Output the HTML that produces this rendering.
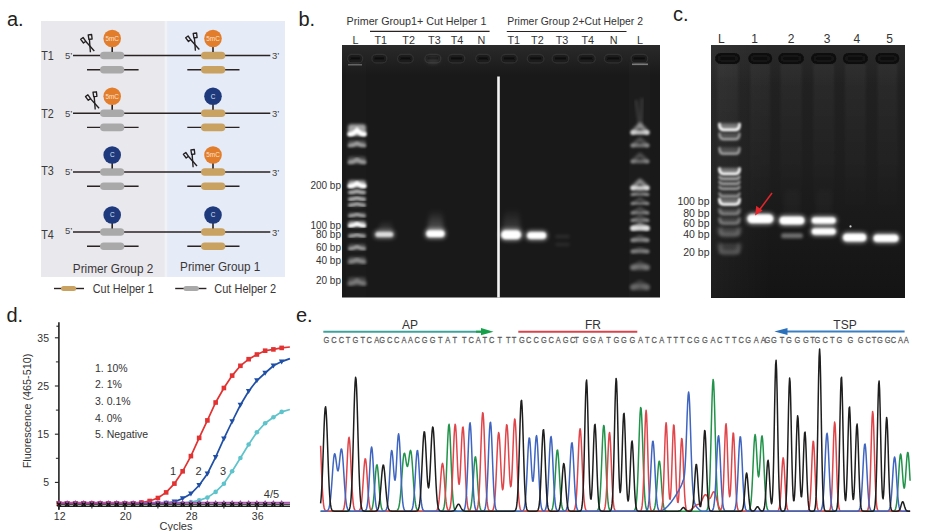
<!DOCTYPE html><html><head><meta charset="utf-8"><style>html,body{margin:0;padding:0;background:#fff;}svg{display:block}</style></head><body><svg width="933" height="531" viewBox="0 0 933 531" font-family="'Liberation Sans', sans-serif">
<defs><filter id="b05" x="-20%" y="-50%" width="140%" height="200%"><feGaussianBlur stdDeviation="0.5"/></filter><filter id="b1" x="-30%" y="-100%" width="160%" height="300%"><feGaussianBlur stdDeviation="0.9"/></filter><filter id="b15" x="-30%" y="-100%" width="160%" height="300%"><feGaussianBlur stdDeviation="1.6"/></filter><filter id="b2" x="-50%" y="-200%" width="200%" height="500%"><feGaussianBlur stdDeviation="2.2"/></filter><linearGradient id="lg" x1="0" y1="0" x2="0" y2="1"><stop offset="0" stop-color="#fff" stop-opacity="0.35"/><stop offset="0.55" stop-color="#fff" stop-opacity="0.55"/><stop offset="0.85" stop-color="#fff" stop-opacity="1"/><stop offset="1" stop-color="#fff" stop-opacity="0.8"/></linearGradient><linearGradient id="gleft" x1="0" y1="0" x2="1" y2="0"><stop offset="0" stop-color="#fff" stop-opacity="0.04"/><stop offset="1" stop-color="#fff" stop-opacity="0"/></linearGradient><linearGradient id="gcv" x1="0" y1="0" x2="0" y2="1"><stop offset="0" stop-color="#222"/><stop offset="0.45" stop-color="#1e1e1e"/><stop offset="1" stop-color="#141414"/></linearGradient><linearGradient id="glane" x1="0" y1="0" x2="0" y2="1"><stop offset="0" stop-color="#fff" stop-opacity="0.045"/><stop offset="1" stop-color="#fff" stop-opacity="0"/></linearGradient><linearGradient id="gsm" x1="0" y1="0" x2="0" y2="1"><stop offset="0" stop-color="#fff" stop-opacity="0"/><stop offset="1" stop-color="#fff" stop-opacity="0.28"/></linearGradient><linearGradient id="gtop" x1="0" y1="0" x2="0" y2="1"><stop offset="0" stop-color="#2a2a2a"/><stop offset="1" stop-color="#2a2a2a" stop-opacity="0"/></linearGradient></defs>
<rect width="933" height="531" fill="#fff"/>
<rect x="41" y="21" width="125.5" height="256" fill="#e9e8ed"/>
<rect x="166.5" y="21" width="118.5" height="256" fill="#e5ebf7"/>
<rect x="164.6" y="21" width="2.6" height="256" fill="#f1f2f6" filter="url(#b05)"/>
<text x="7" y="26" font-size="20" fill="#231f20" text-anchor="start" >a.</text>
<text x="41.2" y="60.4" font-size="12.2" fill="#3a3a3a" text-anchor="start"  textLength="12.6" lengthAdjust="spacingAndGlyphs">T1</text>
<text x="65" y="59.0" font-size="9.5" fill="#444" text-anchor="start" >5&#8217;</text>
<text x="272" y="59.1" font-size="9.5" fill="#444" text-anchor="start" >3&#8217;</text>
<line x1="73" y1="55.5" x2="270.3" y2="55.5" stroke="#2b2222" stroke-width="1.4"/>
<line x1="87" y1="69.7" x2="138.6" y2="69.7" stroke="#2b2222" stroke-width="1.4"/>
<line x1="187.3" y1="69.7" x2="239.5" y2="69.7" stroke="#2b2222" stroke-width="1.4"/>
<rect x="100" y="51.7" width="24.3" height="7.6" rx="3.8" fill="#a9a9a9"/>
<rect x="100" y="65.9" width="24.3" height="7.6" rx="3.8" fill="#a9a9a9"/>
<rect x="201" y="51.7" width="24.3" height="7.6" rx="3.8" fill="#c9a262"/>
<rect x="201" y="65.9" width="24.3" height="7.6" rx="3.8" fill="#c9a262"/>
<line x1="112.2" y1="46.5" x2="112.2" y2="52.0" stroke="#2b2222" stroke-width="1.6"/>
<circle cx="112.2" cy="38.5" r="8.8" fill="#e27d2c"/>
<text x="112.2" y="40.8" font-size="6.4" fill="#fbe3cf" text-anchor="middle">5mC</text>
<line x1="213.0" y1="46.5" x2="213.0" y2="52.0" stroke="#2b2222" stroke-width="1.6"/>
<circle cx="213.0" cy="38.5" r="8.8" fill="#e27d2c"/>
<text x="213.0" y="40.8" font-size="6.4" fill="#fbe3cf" text-anchor="middle">5mC</text>
<text x="41.2" y="117.60000000000001" font-size="12.2" fill="#3a3a3a" text-anchor="start"  textLength="12.6" lengthAdjust="spacingAndGlyphs">T2</text>
<text x="65" y="117.0" font-size="9.5" fill="#444" text-anchor="start" >5&#8217;</text>
<text x="272" y="116.8" font-size="9.5" fill="#444" text-anchor="start" >3&#8217;</text>
<line x1="73" y1="113.2" x2="270.3" y2="113.2" stroke="#2b2222" stroke-width="1.4"/>
<line x1="87" y1="127.4" x2="138.6" y2="127.4" stroke="#2b2222" stroke-width="1.4"/>
<line x1="187.3" y1="127.4" x2="239.5" y2="127.4" stroke="#2b2222" stroke-width="1.4"/>
<rect x="100" y="109.4" width="24.3" height="7.6" rx="3.8" fill="#a9a9a9"/>
<rect x="100" y="123.60000000000001" width="24.3" height="7.6" rx="3.8" fill="#a9a9a9"/>
<rect x="201" y="109.4" width="24.3" height="7.6" rx="3.8" fill="#c9a262"/>
<rect x="201" y="123.60000000000001" width="24.3" height="7.6" rx="3.8" fill="#c9a262"/>
<line x1="112.2" y1="104.2" x2="112.2" y2="109.7" stroke="#2b2222" stroke-width="1.6"/>
<circle cx="112.2" cy="96.2" r="8.8" fill="#e27d2c"/>
<text x="112.2" y="98.5" font-size="6.4" fill="#fbe3cf" text-anchor="middle">5mC</text>
<line x1="213.0" y1="104.2" x2="213.0" y2="109.7" stroke="#2b2222" stroke-width="1.6"/>
<circle cx="213.0" cy="96.2" r="8.8" fill="#1f3a7c"/>
<text x="213.0" y="98.5" font-size="6.4" fill="#dfe4f2" text-anchor="middle">C</text>
<text x="41.2" y="174.8" font-size="12.2" fill="#3a3a3a" text-anchor="start"  textLength="12.6" lengthAdjust="spacingAndGlyphs">T3</text>
<text x="65" y="175.0" font-size="9.5" fill="#444" text-anchor="start" >5&#8217;</text>
<text x="272" y="175.6" font-size="9.5" fill="#444" text-anchor="start" >3&#8217;</text>
<line x1="73" y1="172.0" x2="270.3" y2="172.0" stroke="#2b2222" stroke-width="1.4"/>
<line x1="87" y1="186.2" x2="138.6" y2="186.2" stroke="#2b2222" stroke-width="1.4"/>
<line x1="187.3" y1="186.2" x2="239.5" y2="186.2" stroke="#2b2222" stroke-width="1.4"/>
<rect x="100" y="168.2" width="24.3" height="7.6" rx="3.8" fill="#a9a9a9"/>
<rect x="100" y="182.39999999999998" width="24.3" height="7.6" rx="3.8" fill="#a9a9a9"/>
<rect x="201" y="168.2" width="24.3" height="7.6" rx="3.8" fill="#c9a262"/>
<rect x="201" y="182.39999999999998" width="24.3" height="7.6" rx="3.8" fill="#c9a262"/>
<line x1="112.2" y1="163.0" x2="112.2" y2="168.5" stroke="#2b2222" stroke-width="1.6"/>
<circle cx="112.2" cy="155.0" r="8.8" fill="#1f3a7c"/>
<text x="112.2" y="157.3" font-size="6.4" fill="#dfe4f2" text-anchor="middle">C</text>
<line x1="213.0" y1="163.0" x2="213.0" y2="168.5" stroke="#2b2222" stroke-width="1.6"/>
<circle cx="213.0" cy="155.0" r="8.8" fill="#e27d2c"/>
<text x="213.0" y="157.3" font-size="6.4" fill="#fbe3cf" text-anchor="middle">5mC</text>
<text x="41.2" y="239.0" font-size="12.2" fill="#3a3a3a" text-anchor="start"  textLength="12.6" lengthAdjust="spacingAndGlyphs">T4</text>
<text x="65" y="234.0" font-size="9.5" fill="#444" text-anchor="start" >5&#8217;</text>
<text x="272" y="235.6" font-size="9.5" fill="#444" text-anchor="start" >3&#8217;</text>
<line x1="73" y1="232.0" x2="270.3" y2="232.0" stroke="#2b2222" stroke-width="1.4"/>
<line x1="87" y1="246.2" x2="138.6" y2="246.2" stroke="#2b2222" stroke-width="1.4"/>
<line x1="187.3" y1="246.2" x2="239.5" y2="246.2" stroke="#2b2222" stroke-width="1.4"/>
<rect x="100" y="228.2" width="24.3" height="7.6" rx="3.8" fill="#a9a9a9"/>
<rect x="100" y="242.39999999999998" width="24.3" height="7.6" rx="3.8" fill="#a9a9a9"/>
<rect x="201" y="228.2" width="24.3" height="7.6" rx="3.8" fill="#c9a262"/>
<rect x="201" y="242.39999999999998" width="24.3" height="7.6" rx="3.8" fill="#c9a262"/>
<line x1="112.2" y1="223.0" x2="112.2" y2="228.5" stroke="#2b2222" stroke-width="1.6"/>
<circle cx="112.2" cy="215.0" r="8.8" fill="#1f3a7c"/>
<text x="112.2" y="217.3" font-size="6.4" fill="#dfe4f2" text-anchor="middle">C</text>
<line x1="213.0" y1="223.0" x2="213.0" y2="228.5" stroke="#2b2222" stroke-width="1.6"/>
<circle cx="213.0" cy="215.0" r="8.8" fill="#1f3a7c"/>
<text x="213.0" y="217.3" font-size="6.4" fill="#dfe4f2" text-anchor="middle">C</text>
<g transform="translate(80,34)" fill="none" stroke="#231f20" stroke-width="1.35" stroke-linejoin="round"><path d="M8.2,0.8 L11.6,0.5 L12.1,5 L8.9,5.3 Z"/><path d="M3.1,3.5 L0.7,5.3 L3.5,9 L5.8,7.3 Z"/><path d="M5.6,7.3 L14.3,17"/><path d="M9.4,5.1 L10.4,18.2"/></g>
<g transform="translate(185,32.5)" fill="none" stroke="#231f20" stroke-width="1.35" stroke-linejoin="round"><path d="M8.2,0.8 L11.6,0.5 L12.1,5 L8.9,5.3 Z"/><path d="M3.1,3.5 L0.7,5.3 L3.5,9 L5.8,7.3 Z"/><path d="M5.6,7.3 L14.3,17"/><path d="M9.4,5.1 L10.4,18.2"/></g>
<g transform="translate(84.8,91.3)" fill="none" stroke="#231f20" stroke-width="1.35" stroke-linejoin="round"><path d="M8.2,0.8 L11.6,0.5 L12.1,5 L8.9,5.3 Z"/><path d="M3.1,3.5 L0.7,5.3 L3.5,9 L5.8,7.3 Z"/><path d="M5.6,7.3 L14.3,17"/><path d="M9.4,5.1 L10.4,18.2"/></g>
<g transform="translate(182.7,149)" fill="none" stroke="#231f20" stroke-width="1.35" stroke-linejoin="round"><path d="M8.2,0.8 L11.6,0.5 L12.1,5 L8.9,5.3 Z"/><path d="M3.1,3.5 L0.7,5.3 L3.5,9 L5.8,7.3 Z"/><path d="M5.6,7.3 L14.3,17"/><path d="M9.4,5.1 L10.4,18.2"/></g>
<text x="72.8" y="272.9" font-size="11.9" fill="#3a3636" text-anchor="start"  textLength="80.5" lengthAdjust="spacingAndGlyphs">Primer Group 2</text>
<text x="180.1" y="270.9" font-size="11.9" fill="#3a3636" text-anchor="start"  textLength="80.2" lengthAdjust="spacingAndGlyphs">Primer Group 1</text>
<line x1="54" y1="288.5" x2="84" y2="288.5" stroke="#2b2222" stroke-width="1.4"/>
<rect x="61" y="286" width="15.2" height="5" rx="2.5" fill="#c9a262"/>
<text x="92.8" y="292.6" font-size="12.0" fill="#3a3636" text-anchor="start"  textLength="60.8" lengthAdjust="spacingAndGlyphs">Cut Helper 1</text>
<line x1="175.2" y1="288.5" x2="206.4" y2="288.5" stroke="#2b2222" stroke-width="1.4"/>
<rect x="183.5" y="286" width="15.4" height="5" rx="2.5" fill="#a9a9a9"/>
<text x="214.3" y="292.6" font-size="12.0" fill="#3a3636" text-anchor="start"  textLength="61.8" lengthAdjust="spacingAndGlyphs">Cut Helper 2</text>
<text x="298.5" y="25.5" font-size="20" fill="#231f20" text-anchor="start" >b.</text>
<rect x="342" y="45" width="318" height="252.5" fill="#191919"/>
<rect x="342" y="45" width="318" height="30" fill="url(#gtop)"/>
<text x="346.6" y="25.1" font-size="10.3" fill="#333" text-anchor="start"  textLength="139.8" lengthAdjust="spacingAndGlyphs">Primer Group1+ Cut Helper 1</text>
<text x="507.2" y="24.6" font-size="11.0" fill="#333" text-anchor="start"  textLength="135.8" lengthAdjust="spacingAndGlyphs">Primer Group 2+Cut Helper 2</text>
<line x1="370" y1="31.4" x2="489.6" y2="31.4" stroke="#2b2222" stroke-width="1.1"/>
<line x1="506.8" y1="31.5" x2="626.5" y2="31.5" stroke="#2b2222" stroke-width="1.1"/>
<text x="355.5" y="43.5" font-size="10.8" fill="#333" text-anchor="middle" >L</text>
<text x="380.8" y="43.5" font-size="10.8" fill="#333" text-anchor="middle" >T1</text>
<text x="408.6" y="43.5" font-size="10.8" fill="#333" text-anchor="middle" >T2</text>
<text x="434.4" y="43.5" font-size="10.8" fill="#333" text-anchor="middle" >T3</text>
<text x="457" y="43.5" font-size="10.8" fill="#333" text-anchor="middle" >T4</text>
<text x="481.5" y="43.5" font-size="10.8" fill="#333" text-anchor="middle" >N</text>
<text x="513.7" y="43.5" font-size="10.8" fill="#333" text-anchor="middle" >T1</text>
<text x="537.4" y="43.5" font-size="10.8" fill="#333" text-anchor="middle" >T2</text>
<text x="562" y="43.5" font-size="10.8" fill="#333" text-anchor="middle" >T3</text>
<text x="587.7" y="43.5" font-size="10.8" fill="#333" text-anchor="middle" >T4</text>
<text x="613.7" y="43.5" font-size="10.8" fill="#333" text-anchor="middle" >N</text>
<text x="640" y="43.5" font-size="10.8" fill="#333" text-anchor="middle" >L</text>
<rect x="347.7" y="54.5" width="14.999999999999977" height="8.300000000000002" rx="4" fill="#1a1a1a" stroke="#303030" stroke-width="1.3" filter="url(#b05)"/>
<rect x="350.5" y="57.65" width="9.399999999999977" height="2" fill="#0e0e0e" filter="url(#b05)"/>
<rect x="371.9" y="54.5" width="14.900000000000011" height="8.300000000000002" rx="4" fill="#1a1a1a" stroke="#303030" stroke-width="1.3" filter="url(#b05)"/>
<rect x="374.7" y="57.65" width="9.300000000000011" height="2" fill="#0e0e0e" filter="url(#b05)"/>
<rect x="397.59999999999997" y="54.5" width="15.700000000000022" height="8.300000000000002" rx="4" fill="#1a1a1a" stroke="#303030" stroke-width="1.3" filter="url(#b05)"/>
<rect x="400.4" y="57.65" width="10.100000000000023" height="2" fill="#0e0e0e" filter="url(#b05)"/>
<rect x="425.0" y="54.5" width="15.799999999999988" height="8.300000000000002" rx="4" fill="#1a1a1a" stroke="#303030" stroke-width="1.3" filter="url(#b05)"/>
<rect x="427.8" y="57.65" width="10.199999999999989" height="2" fill="#0e0e0e" filter="url(#b05)"/>
<rect x="448.2" y="54.5" width="16.6" height="8.300000000000002" rx="4" fill="#1a1a1a" stroke="#303030" stroke-width="1.3" filter="url(#b05)"/>
<rect x="451.0" y="57.65" width="11.0" height="2" fill="#0e0e0e" filter="url(#b05)"/>
<rect x="475.7" y="54.5" width="14.799999999999988" height="8.300000000000002" rx="4" fill="#1a1a1a" stroke="#303030" stroke-width="1.3" filter="url(#b05)"/>
<rect x="478.5" y="57.65" width="9.199999999999989" height="2" fill="#0e0e0e" filter="url(#b05)"/>
<rect x="501.2" y="54.5" width="16.1" height="8.300000000000002" rx="4" fill="#1a1a1a" stroke="#303030" stroke-width="1.3" filter="url(#b05)"/>
<rect x="504.0" y="57.65" width="10.5" height="2" fill="#0e0e0e" filter="url(#b05)"/>
<rect x="527.3000000000001" y="54.5" width="16.6" height="8.300000000000002" rx="4" fill="#1a1a1a" stroke="#303030" stroke-width="1.3" filter="url(#b05)"/>
<rect x="530.1" y="57.65" width="11.0" height="2" fill="#0e0e0e" filter="url(#b05)"/>
<rect x="552.2" y="54.5" width="16.6" height="8.300000000000002" rx="4" fill="#1a1a1a" stroke="#303030" stroke-width="1.3" filter="url(#b05)"/>
<rect x="555.0" y="57.65" width="11.0" height="2" fill="#0e0e0e" filter="url(#b05)"/>
<rect x="577.9000000000001" y="54.5" width="17.399999999999956" height="8.300000000000002" rx="4" fill="#1a1a1a" stroke="#303030" stroke-width="1.3" filter="url(#b05)"/>
<rect x="580.7" y="57.65" width="11.799999999999955" height="2" fill="#0e0e0e" filter="url(#b05)"/>
<rect x="604.5" y="54.5" width="17.40000000000007" height="8.300000000000002" rx="4" fill="#1a1a1a" stroke="#303030" stroke-width="1.3" filter="url(#b05)"/>
<rect x="607.3" y="57.65" width="11.800000000000068" height="2" fill="#0e0e0e" filter="url(#b05)"/>
<rect x="631.1" y="54.5" width="16.6" height="8.300000000000002" rx="4" fill="#1a1a1a" stroke="#303030" stroke-width="1.3" filter="url(#b05)"/>
<rect x="633.9" y="57.65" width="11.0" height="2" fill="#0e0e0e" filter="url(#b05)"/>
<rect x="632" y="63.5" width="16" height="1.6" fill="#fff" opacity="0.4" filter="url(#b05)"/>
<rect x="348" y="64" width="14" height="1.5" fill="#fff" opacity="0.3" filter="url(#b05)"/>
<ellipse cx="433" cy="60" rx="7" ry="4" fill="#fff" opacity="0.1" filter="url(#b2)"/>
<rect x="346" y="62" width="20" height="235" fill="#fff" opacity="0.012"/>
<rect x="348" y="124.2" width="18" height="11.899999999999991" rx="3" fill="#fff" opacity="0.6" filter="url(#b15)"/>
<path d="M349.5,134.35 Q353,134.35 357,130.185 Q361,134.35 364.5,134.35" fill="none" stroke="#fff" stroke-width="4.5" stroke-linecap="round" opacity="1.0" filter="url(#b1)"/>
<rect x="348" y="140.3" width="18" height="6.799999999999983" rx="3" fill="#fff" opacity="0.252" filter="url(#b15)"/>
<path d="M349.5,145.73 Q353,145.73 357,143.35 Q361,145.73 364.5,145.73" fill="none" stroke="#fff" stroke-width="3.739999999999991" stroke-linecap="round" opacity="0.42" filter="url(#b1)"/>
<rect x="348" y="156.4" width="18" height="7.599999999999994" rx="3" fill="#fff" opacity="0.24" filter="url(#b15)"/>
<path d="M349.5,162.41 Q353,162.41 357,159.75 Q361,162.41 364.5,162.41" fill="none" stroke="#fff" stroke-width="4.179999999999997" stroke-linecap="round" opacity="0.4" filter="url(#b1)"/>
<rect x="348" y="180.2" width="18" height="7.600000000000023" rx="3" fill="#fff" opacity="0.6" filter="url(#b15)"/>
<path d="M349.5,186.21 Q353,186.21 357,183.55 Q361,186.21 364.5,186.21" fill="none" stroke="#fff" stroke-width="4.180000000000013" stroke-linecap="round" opacity="1.0" filter="url(#b1)"/>
<rect x="348" y="189.5" width="18" height="4.199999999999989" rx="3" fill="#fff" opacity="0.3" filter="url(#b15)"/>
<path d="M349.5,192.7 Q353,192.7 357,191.23 Q361,192.7 364.5,192.7" fill="none" stroke="#fff" stroke-width="3" stroke-linecap="round" opacity="0.5" filter="url(#b1)"/>
<rect x="348" y="196.3" width="18" height="4.199999999999989" rx="3" fill="#fff" opacity="0.3" filter="url(#b15)"/>
<path d="M349.5,199.5 Q353,199.5 357,198.03 Q361,199.5 364.5,199.5" fill="none" stroke="#fff" stroke-width="3" stroke-linecap="round" opacity="0.5" filter="url(#b1)"/>
<rect x="348" y="202.2" width="18" height="4.200000000000017" rx="3" fill="#fff" opacity="0.288" filter="url(#b15)"/>
<path d="M349.5,205.4 Q353,205.4 357,203.93 Q361,205.4 364.5,205.4" fill="none" stroke="#fff" stroke-width="3" stroke-linecap="round" opacity="0.48" filter="url(#b1)"/>
<rect x="348" y="212.6" width="18" height="4.300000000000011" rx="3" fill="#fff" opacity="0.27" filter="url(#b15)"/>
<path d="M349.5,215.9 Q353,215.9 357,214.395 Q361,215.9 364.5,215.9" fill="none" stroke="#fff" stroke-width="3" stroke-linecap="round" opacity="0.45" filter="url(#b1)"/>
<rect x="348" y="221.1" width="18" height="5.900000000000006" rx="3" fill="#fff" opacity="0.6" filter="url(#b15)"/>
<path d="M349.5,225.8775 Q353,225.8775 357,223.8125 Q361,225.8775 364.5,225.8775" fill="none" stroke="#fff" stroke-width="3.245000000000003" stroke-linecap="round" opacity="1.0" filter="url(#b1)"/>
<rect x="348" y="233" width="18" height="4.199999999999989" rx="3" fill="#fff" opacity="0.27" filter="url(#b15)"/>
<path d="M349.5,236.2 Q353,236.2 357,234.73 Q361,236.2 364.5,236.2" fill="none" stroke="#fff" stroke-width="3" stroke-linecap="round" opacity="0.45" filter="url(#b1)"/>
<rect x="348" y="244" width="18" height="5.900000000000006" rx="3" fill="#fff" opacity="0.252" filter="url(#b15)"/>
<path d="M349.5,248.7775 Q353,248.7775 357,246.7125 Q361,248.7775 364.5,248.7775" fill="none" stroke="#fff" stroke-width="3.245000000000003" stroke-linecap="round" opacity="0.42" filter="url(#b1)"/>
<rect x="348" y="256.7" width="18" height="6.800000000000011" rx="3" fill="#fff" opacity="0.22799999999999998" filter="url(#b15)"/>
<path d="M349.5,262.13 Q353,262.13 357,259.75 Q361,262.13 364.5,262.13" fill="none" stroke="#fff" stroke-width="3.7400000000000064" stroke-linecap="round" opacity="0.38" filter="url(#b15)"/>
<rect x="348" y="277" width="18" height="8.5" rx="3" fill="#fff" opacity="0.18" filter="url(#b15)"/>
<path d="M349.5,283.75 Q353,283.75 357,280.775 Q361,283.75 364.5,283.75" fill="none" stroke="#fff" stroke-width="4.5" stroke-linecap="round" opacity="0.3" filter="url(#b15)"/>
<rect x="629" y="62" width="21" height="235" fill="#fff" opacity="0.015"/>
<path d="M636,100 L640,130 M642,98 L641,130" stroke="#fff" stroke-width="3" opacity="0.12" filter="url(#b15)"/>
<path d="M632.5,132.5 L640,124.73 L647.5,132.5" fill="none" stroke="#fff" stroke-width="4.5" stroke-linejoin="round" stroke-linecap="round" opacity="0.45" filter="url(#b15)"/>
<rect x="630.5" y="130.25" width="19" height="4.5" rx="2.25" fill="#fff" opacity="0.675" filter="url(#b1)"/>
<path d="M632.5,145.5 L640,139.13 L647.5,145.5" fill="none" stroke="#fff" stroke-width="4" stroke-linejoin="round" stroke-linecap="round" opacity="0.225" filter="url(#b15)"/>
<rect x="630.5" y="143.5" width="19" height="4" rx="2.0" fill="#fff" opacity="0.3375" filter="url(#b1)"/>
<path d="M632.5,161.5 L640,154.5 L647.5,161.5" fill="none" stroke="#fff" stroke-width="4" stroke-linejoin="round" stroke-linecap="round" opacity="0.21" filter="url(#b15)"/>
<rect x="630.5" y="159.5" width="19" height="4" rx="2.0" fill="#fff" opacity="0.315" filter="url(#b1)"/>
<path d="M632.5,188 L640,180.93 L647.5,188" fill="none" stroke="#fff" stroke-width="4.5" stroke-linejoin="round" stroke-linecap="round" opacity="0.475" filter="url(#b15)"/>
<rect x="630.5" y="185.75" width="19" height="4.5" rx="2.25" fill="#fff" opacity="0.7124999999999999" filter="url(#b1)"/>
<path d="M632.5,194.5 L640,190.65 L647.5,194.5" fill="none" stroke="#fff" stroke-width="3.2" stroke-linejoin="round" stroke-linecap="round" opacity="0.225" filter="url(#b15)"/>
<rect x="630.5" y="192.9" width="19" height="3.2" rx="1.6" fill="#fff" opacity="0.3375" filter="url(#b1)"/>
<path d="M632.5,203.5 L640,198.88 L647.5,203.5" fill="none" stroke="#fff" stroke-width="3.2" stroke-linejoin="round" stroke-linecap="round" opacity="0.225" filter="url(#b15)"/>
<rect x="630.5" y="201.9" width="19" height="3.2" rx="1.6" fill="#fff" opacity="0.3375" filter="url(#b1)"/>
<path d="M632.5,212.9 L640,208.28 L647.5,212.9" fill="none" stroke="#fff" stroke-width="3.2" stroke-linejoin="round" stroke-linecap="round" opacity="0.225" filter="url(#b15)"/>
<rect x="630.5" y="211.3" width="19" height="3.2" rx="1.6" fill="#fff" opacity="0.3375" filter="url(#b1)"/>
<path d="M632.5,220.4 L640,216.48000000000002 L647.5,220.4" fill="none" stroke="#fff" stroke-width="3.2" stroke-linejoin="round" stroke-linecap="round" opacity="0.225" filter="url(#b15)"/>
<rect x="630.5" y="218.8" width="19" height="3.2" rx="1.6" fill="#fff" opacity="0.3375" filter="url(#b1)"/>
<path d="M632.5,228.2 L640,224.7 L647.5,228.2" fill="none" stroke="#fff" stroke-width="5" stroke-linejoin="round" stroke-linecap="round" opacity="0.5" filter="url(#b15)"/>
<rect x="630.5" y="225.7" width="19" height="5" rx="2.5" fill="#fff" opacity="0.75" filter="url(#b1)"/>
<path d="M632.5,240.2 L640,236.91 L647.5,240.2" fill="none" stroke="#fff" stroke-width="4" stroke-linejoin="round" stroke-linecap="round" opacity="0.225" filter="url(#b15)"/>
<rect x="630.5" y="238.2" width="19" height="4" rx="2.0" fill="#fff" opacity="0.3375" filter="url(#b1)"/>
<path d="M632.5,251.5 L640,248.84 L647.5,251.5" fill="none" stroke="#fff" stroke-width="4" stroke-linejoin="round" stroke-linecap="round" opacity="0.2" filter="url(#b15)"/>
<rect x="630.5" y="249.5" width="19" height="4" rx="2.0" fill="#fff" opacity="0.30000000000000004" filter="url(#b1)"/>
<path d="M632.5,267.5 L640,263.58 L647.5,267.5" fill="none" stroke="#fff" stroke-width="5.5" stroke-linejoin="round" stroke-linecap="round" opacity="0.18" filter="url(#b15)"/>
<rect x="630.5" y="264.75" width="19" height="5.5" rx="2.75" fill="#fff" opacity="0.27" filter="url(#b15)"/>
<path d="M632.5,287.3 L640,282.68 L647.5,287.3" fill="none" stroke="#fff" stroke-width="6" stroke-linejoin="round" stroke-linecap="round" opacity="0.15" filter="url(#b15)"/>
<rect x="630.5" y="284.3" width="19" height="6" rx="3.0" fill="#fff" opacity="0.22499999999999998" filter="url(#b15)"/>
<path d="M427,232 L444,232 L442,210 L430,210 Z" fill="url(#gsm)" filter="url(#b2)"/>
<rect x="424.9" y="229.05" width="21.0" height="9.5" rx="4.75" fill="#ffffff" opacity="0.6" filter="url(#b2)"/>
<rect x="426.4" y="230.55" width="18.0" height="6.5" rx="3.25" fill="#ffffff" opacity="1.0" filter="url(#b1)"/>
<rect x="373.9" y="230.6" width="20.80000000000001" height="8" rx="4.0" fill="#ffffff" opacity="0.432" filter="url(#b2)"/>
<rect x="375.4" y="232.1" width="17.80000000000001" height="5" rx="2.5" fill="#ffffff" opacity="0.72" filter="url(#b1)"/>
<path d="M377,233 L393,233 L391,220 L381,222 Z" fill="url(#gsm)" opacity="0.7" filter="url(#b2)"/>
<path d="M502,232 L521,232 L519,208 L505,208 Z" fill="url(#gsm)" opacity="0.6" filter="url(#b2)"/>
<rect x="499.8" y="228.95" width="22.599999999999966" height="11.5" rx="5.75" fill="#ffffff" opacity="0.6" filter="url(#b2)"/>
<rect x="501.3" y="230.45" width="19.599999999999966" height="8.5" rx="4.25" fill="#ffffff" opacity="1.0" filter="url(#b1)"/>
<rect x="525.8" y="230.85" width="21.700000000000045" height="9.5" rx="4.75" fill="#ffffff" opacity="0.6" filter="url(#b2)"/>
<rect x="527.3" y="232.35" width="18.700000000000045" height="6.5" rx="3.25" fill="#ffffff" opacity="1.0" filter="url(#b1)"/>
<rect x="555" y="234.75" width="15" height="3.5" rx="1.75" fill="#ffffff" opacity="0.08" filter="url(#b15)"/>
<rect x="555" y="242.75" width="15" height="3.5" rx="1.75" fill="#ffffff" opacity="0.07" filter="url(#b15)"/>
<rect x="497.2" y="76.5" width="2.6" height="221" fill="#f4f4f4"/>
<text x="341" y="188.9" font-size="10" fill="#333" text-anchor="end" >200 bp</text>
<text x="341" y="228.9" font-size="10" fill="#333" text-anchor="end" >100 bp</text>
<text x="341" y="238.2" font-size="10" fill="#333" text-anchor="end" >80 bp</text>
<text x="341" y="250.9" font-size="10" fill="#333" text-anchor="end" >60 bp</text>
<text x="341" y="264.1" font-size="10" fill="#333" text-anchor="end" >40 bp</text>
<text x="341" y="283.90000000000003" font-size="10" fill="#333" text-anchor="end" >20 bp</text>
<text x="673" y="21" font-size="20" fill="#231f20" text-anchor="start" >c.</text>
<rect x="711" y="45" width="194" height="253" fill="url(#gcv)"/>
<rect x="711" y="45" width="194" height="40" fill="url(#gtop)"/>
<rect x="711" y="45" width="60" height="252.5" fill="url(#gleft)"/>
<text x="721.4" y="43" font-size="12" fill="#333" text-anchor="middle" >L</text>
<text x="754.7" y="43" font-size="12" fill="#333" text-anchor="middle" >1</text>
<text x="791.2" y="43" font-size="12" fill="#333" text-anchor="middle" >2</text>
<text x="827.2" y="43" font-size="12" fill="#333" text-anchor="middle" >3</text>
<text x="856.9" y="43" font-size="12" fill="#333" text-anchor="middle" >4</text>
<text x="889.7" y="43" font-size="12" fill="#333" text-anchor="middle" >5</text>
<rect x="717.3" y="64" width="20.700000000000045" height="150" fill="url(#glane)" filter="url(#b1)"/>
<rect x="716.3" y="54.1" width="22.700000000000045" height="8.7" rx="4.3" fill="#161616" stroke="#0a0a0a" stroke-width="2.2" filter="url(#b05)"/>
<rect x="720.3" y="57.6" width="14.700000000000045" height="1.8" fill="#0a0a0a" filter="url(#b05)"/>
<rect x="750.5" y="64" width="19.600000000000023" height="150" fill="url(#glane)" filter="url(#b1)"/>
<rect x="749.5" y="54.1" width="21.600000000000023" height="8.7" rx="4.3" fill="#161616" stroke="#0a0a0a" stroke-width="2.2" filter="url(#b05)"/>
<rect x="753.5" y="57.6" width="13.600000000000023" height="1.8" fill="#0a0a0a" filter="url(#b05)"/>
<rect x="780.5" y="64" width="21.200000000000045" height="150" fill="url(#glane)" filter="url(#b1)"/>
<rect x="779.5" y="54.1" width="23.200000000000045" height="8.7" rx="4.3" fill="#161616" stroke="#0a0a0a" stroke-width="2.2" filter="url(#b05)"/>
<rect x="783.5" y="57.6" width="15.200000000000045" height="1.8" fill="#0a0a0a" filter="url(#b05)"/>
<rect x="813.4" y="64" width="20.800000000000068" height="150" fill="url(#glane)" filter="url(#b1)"/>
<rect x="812.4" y="54.1" width="22.800000000000068" height="8.7" rx="4.3" fill="#161616" stroke="#0a0a0a" stroke-width="2.2" filter="url(#b05)"/>
<rect x="816.4" y="57.6" width="14.800000000000068" height="1.8" fill="#0a0a0a" filter="url(#b05)"/>
<rect x="845" y="64" width="20.700000000000045" height="150" fill="url(#glane)" filter="url(#b1)"/>
<rect x="844" y="54.1" width="22.700000000000045" height="8.7" rx="4.3" fill="#161616" stroke="#0a0a0a" stroke-width="2.2" filter="url(#b05)"/>
<rect x="848" y="57.6" width="14.700000000000045" height="1.8" fill="#0a0a0a" filter="url(#b05)"/>
<rect x="877.6" y="64" width="19.600000000000023" height="150" fill="url(#glane)" filter="url(#b1)"/>
<rect x="876.6" y="54.1" width="21.600000000000023" height="8.7" rx="4.3" fill="#161616" stroke="#0a0a0a" stroke-width="2.2" filter="url(#b05)"/>
<rect x="880.6" y="57.6" width="13.600000000000023" height="1.8" fill="#0a0a0a" filter="url(#b05)"/>
<rect x="784" y="190" width="16" height="24" fill="#fff" opacity="0.02" filter="url(#b2)"/>
<rect x="816" y="190" width="16" height="24" fill="#fff" opacity="0.02" filter="url(#b2)"/>
<rect x="719.0" y="123.5" width="21.0" height="7.5" rx="2" fill="#fff" opacity="0.38" filter="url(#b15)"/>
<path d="M719.5,124 Q719.5,129.7 723.5,129.7 L735.5,129.7 Q739.5,129.7 739.5,124" fill="none" stroke="#fff" stroke-width="2.6" stroke-linecap="round" opacity="1.0" filter="url(#b1)"/>
<rect x="719.0" y="133.1" width="21.0" height="7.099999999999994" rx="2" fill="#fff" opacity="0.19" filter="url(#b15)"/>
<path d="M719.5,133.6 Q719.5,139.1 723.5,139.1 L735.5,139.1 Q739.5,139.1 739.5,133.6" fill="none" stroke="#fff" stroke-width="2.2" stroke-linecap="round" opacity="0.5" filter="url(#b1)"/>
<rect x="719.0" y="147.4" width="21.0" height="7.400000000000006" rx="2" fill="#fff" opacity="0.19" filter="url(#b15)"/>
<path d="M719.5,147.9 Q719.5,153.70000000000002 723.5,153.70000000000002 L735.5,153.70000000000002 Q739.5,153.70000000000002 739.5,147.9" fill="none" stroke="#fff" stroke-width="2.2" stroke-linecap="round" opacity="0.5" filter="url(#b1)"/>
<rect x="719.0" y="168.0" width="21.0" height="7.0" rx="2" fill="#fff" opacity="0.38" filter="url(#b15)"/>
<path d="M719.5,168.5 Q719.5,173.7 723.5,173.7 L735.5,173.7 Q739.5,173.7 739.5,168.5" fill="none" stroke="#fff" stroke-width="2.6" stroke-linecap="round" opacity="1.0" filter="url(#b1)"/>
<rect x="719.0" y="176.0" width="21.0" height="4.0" rx="2" fill="#fff" opacity="0.20900000000000002" filter="url(#b15)"/>
<path d="M719.5,176.5 Q719.5,178.9 723.5,178.9 L735.5,178.9 Q739.5,178.9 739.5,176.5" fill="none" stroke="#fff" stroke-width="2.2" stroke-linecap="round" opacity="0.55" filter="url(#b1)"/>
<rect x="719.0" y="181.0" width="21.0" height="4.0" rx="2" fill="#fff" opacity="0.19" filter="url(#b15)"/>
<path d="M719.5,181.5 Q719.5,183.9 723.5,183.9 L735.5,183.9 Q739.5,183.9 739.5,181.5" fill="none" stroke="#fff" stroke-width="2.2" stroke-linecap="round" opacity="0.5" filter="url(#b1)"/>
<rect x="719.0" y="186.0" width="21.0" height="4.0" rx="2" fill="#fff" opacity="0.1824" filter="url(#b15)"/>
<path d="M719.5,186.5 Q719.5,188.9 723.5,188.9 L735.5,188.9 Q739.5,188.9 739.5,186.5" fill="none" stroke="#fff" stroke-width="2.2" stroke-linecap="round" opacity="0.48" filter="url(#b1)"/>
<rect x="719.0" y="192.5" width="21.0" height="5.0" rx="2" fill="#fff" opacity="0.171" filter="url(#b15)"/>
<path d="M719.5,193 Q719.5,196.4 723.5,196.4 L735.5,196.4 Q739.5,196.4 739.5,193" fill="none" stroke="#fff" stroke-width="2.2" stroke-linecap="round" opacity="0.45" filter="url(#b1)"/>
<rect x="719.0" y="198.5" width="21.0" height="7.0" rx="2" fill="#fff" opacity="0.38" filter="url(#b15)"/>
<path d="M719.5,199 Q719.5,204.2 723.5,204.2 L735.5,204.2 Q739.5,204.2 739.5,199" fill="none" stroke="#fff" stroke-width="2.6" stroke-linecap="round" opacity="1.0" filter="url(#b1)"/>
<rect x="719.0" y="208.5" width="21.0" height="6.5" rx="2" fill="#fff" opacity="0.171" filter="url(#b15)"/>
<path d="M719.5,209 Q719.5,213.9 723.5,213.9 L735.5,213.9 Q739.5,213.9 739.5,209" fill="none" stroke="#fff" stroke-width="2.2" stroke-linecap="round" opacity="0.45" filter="url(#b15)"/>
<rect x="719.0" y="217.5" width="21.0" height="7.0" rx="2" fill="#fff" opacity="0.1596" filter="url(#b15)"/>
<path d="M719.5,218 Q719.5,223.4 723.5,223.4 L735.5,223.4 Q739.5,223.4 739.5,218" fill="none" stroke="#fff" stroke-width="2.2" stroke-linecap="round" opacity="0.42" filter="url(#b15)"/>
<rect x="719.0" y="227.5" width="21.0" height="8.5" rx="2" fill="#fff" opacity="0.15200000000000002" filter="url(#b15)"/>
<path d="M719.5,228 Q719.5,234.9 723.5,234.9 L735.5,234.9 Q739.5,234.9 739.5,228" fill="none" stroke="#fff" stroke-width="2.2" stroke-linecap="round" opacity="0.4" filter="url(#b2)"/>
<rect x="719.0" y="243.5" width="21.0" height="10.5" rx="2" fill="#fff" opacity="0.1254" filter="url(#b15)"/>
<path d="M719.5,244 Q719.5,252.9 723.5,252.9 L735.5,252.9 Q739.5,252.9 739.5,244" fill="none" stroke="#fff" stroke-width="2.2" stroke-linecap="round" opacity="0.33" filter="url(#b2)"/>
<rect x="746.0" y="213.05" width="28.700000000000045" height="11.5" rx="5.75" fill="#ffffff" opacity="0.6" filter="url(#b2)"/>
<rect x="747.5" y="214.55" width="25.700000000000045" height="8.5" rx="4.25" fill="#ffffff" opacity="1.0" filter="url(#b1)"/>
<rect x="778.2" y="215.15" width="27.5" height="10.5" rx="5.25" fill="#ffffff" opacity="0.6" filter="url(#b2)"/>
<rect x="779.7" y="216.65" width="24.5" height="7.5" rx="3.75" fill="#ffffff" opacity="1.0" filter="url(#b1)"/>
<rect x="781" y="233.2" width="22" height="5" rx="2.5" fill="#ffffff" opacity="0.38" filter="url(#b15)"/>
<rect x="810.4" y="215.9" width="26.700000000000045" height="9" rx="4.5" fill="#ffffff" opacity="0.6" filter="url(#b2)"/>
<rect x="811.9" y="217.4" width="23.700000000000045" height="6" rx="3.0" fill="#ffffff" opacity="1.0" filter="url(#b1)"/>
<rect x="810.4" y="226.9" width="26.700000000000045" height="9" rx="4.5" fill="#ffffff" opacity="0.6" filter="url(#b2)"/>
<rect x="811.9" y="228.4" width="23.700000000000045" height="6" rx="3.0" fill="#ffffff" opacity="1.0" filter="url(#b1)"/>
<rect x="841.7" y="232.15" width="25.899999999999977" height="10.5" rx="5.25" fill="#ffffff" opacity="0.6" filter="url(#b2)"/>
<rect x="843.2" y="233.65" width="22.899999999999977" height="7.5" rx="3.75" fill="#ffffff" opacity="1.0" filter="url(#b1)"/>
<rect x="872.2" y="233.2" width="27.59999999999991" height="10" rx="5.0" fill="#ffffff" opacity="0.6" filter="url(#b2)"/>
<rect x="873.7" y="234.7" width="24.59999999999991" height="7" rx="3.5" fill="#ffffff" opacity="1.0" filter="url(#b1)"/>
<circle cx="850.5" cy="226.4" r="1.1" fill="#fff" opacity="0.8"/>
<line x1="772" y1="193" x2="759" y2="210.5" stroke="#e3262b" stroke-width="1.5"/>
<path d="M755.1,215.5 L756.2,205.8 L762.6,210.6 Z" fill="#e3262b"/>
<text x="709.5" y="205.4" font-size="10.5" fill="#333" text-anchor="end" >100 bp</text>
<text x="709.5" y="217.1" font-size="10.5" fill="#333" text-anchor="end" >80 bp</text>
<text x="709.5" y="227.4" font-size="10.5" fill="#333" text-anchor="end" >60 bp</text>
<text x="709.5" y="238.2" font-size="10.5" fill="#333" text-anchor="end" >40 bp</text>
<text x="709.5" y="256.0" font-size="10.5" fill="#333" text-anchor="end" >20 bp</text>
<text x="6.5" y="322" font-size="20" fill="#231f20" text-anchor="start" >d.</text>
<line x1="58.9" y1="322.2" x2="58.9" y2="509.5" stroke="#222" stroke-width="1.6"/>
<line x1="56.4" y1="326.2" x2="58.9" y2="326.2" stroke="#222" stroke-width="1.1"/>
<line x1="58.9" y1="506.5" x2="290" y2="506.5" stroke="#222" stroke-width="1.1"/>
<line x1="54.9" y1="337.79999999999995" x2="58.9" y2="337.79999999999995" stroke="#222" stroke-width="1.1"/>
<text x="49" y="341.59999999999997" font-size="10.5" fill="#333" text-anchor="end" >35</text>
<line x1="54.9" y1="386.0" x2="58.9" y2="386.0" stroke="#222" stroke-width="1.1"/>
<text x="49" y="389.8" font-size="10.5" fill="#333" text-anchor="end" >25</text>
<line x1="54.9" y1="434.2" x2="58.9" y2="434.2" stroke="#222" stroke-width="1.1"/>
<text x="49" y="438.0" font-size="10.5" fill="#333" text-anchor="end" >15</text>
<line x1="54.9" y1="482.4" x2="58.9" y2="482.4" stroke="#222" stroke-width="1.1"/>
<text x="49" y="486.2" font-size="10.5" fill="#333" text-anchor="end" >5</text>
<line x1="55.9" y1="361.9" x2="58.9" y2="361.9" stroke="#222" stroke-width="1"/>
<line x1="55.9" y1="410.1" x2="58.9" y2="410.1" stroke="#222" stroke-width="1"/>
<line x1="55.9" y1="458.3" x2="58.9" y2="458.3" stroke="#222" stroke-width="1"/>
<line x1="58.9" y1="506.5" x2="58.9" y2="510.0" stroke="#222" stroke-width="1.1"/>
<text x="59.699999999999996" y="519.8" font-size="10.5" fill="#333" text-anchor="middle" >12</text>
<line x1="124.9" y1="506.5" x2="124.9" y2="510.0" stroke="#222" stroke-width="1.1"/>
<text x="125.7" y="519.8" font-size="10.5" fill="#333" text-anchor="middle" >20</text>
<line x1="190.9" y1="506.5" x2="190.9" y2="510.0" stroke="#222" stroke-width="1.1"/>
<text x="191.70000000000002" y="519.8" font-size="10.5" fill="#333" text-anchor="middle" >28</text>
<line x1="256.9" y1="506.5" x2="256.9" y2="510.0" stroke="#222" stroke-width="1.1"/>
<text x="257.7" y="519.8" font-size="10.5" fill="#333" text-anchor="middle" >36</text>
<line x1="91.9" y1="506.5" x2="91.9" y2="508.5" stroke="#222" stroke-width="1"/>
<line x1="157.9" y1="506.5" x2="157.9" y2="508.5" stroke="#222" stroke-width="1"/>
<line x1="223.9" y1="506.5" x2="223.9" y2="508.5" stroke="#222" stroke-width="1"/>
<text x="176" y="530" font-size="11" fill="#333" text-anchor="middle" >Cycles</text>
<text transform="translate(31.4,411) rotate(-90)" font-size="10.8" fill="#333" text-anchor="middle">Fluorescence (465-510)</text>
<text x="95" y="371.7" font-size="10.5" fill="#333" text-anchor="start" >1. 10%</text>
<text x="95" y="388.3" font-size="10.5" fill="#333" text-anchor="start" >2. 1%</text>
<text x="95" y="404.9" font-size="10.5" fill="#333" text-anchor="start" >3. 0.1%</text>
<text x="95" y="421.5" font-size="10.5" fill="#333" text-anchor="start" >4. 0%</text>
<text x="95" y="438.1" font-size="10.5" fill="#333" text-anchor="start" >5. Negative</text>
<path d="M58.90,503.50 L67.15,503.50 L75.40,503.50 L83.65,503.50 L91.90,503.50 L100.15,503.50 L108.40,503.50 L116.65,503.50 L124.90,503.50 L133.15,503.50 L141.40,503.50 L149.65,503.50 L157.90,503.50 L166.15,503.50 L174.40,503.50 L182.65,503.20 L190.90,502.00 L199.15,500.40 L207.40,497.60 L215.65,491.90 L223.90,483.80 L232.15,471.20 L240.40,458.00 L248.65,444.50 L256.90,432.20 L265.15,423.20 L273.40,417.20 L281.65,411.90 L289.90,409.50" fill="none" stroke="#5ec3cb" stroke-width="1.7"/>
<circle cx="58.9" cy="503.5" r="2.3" fill="#5ec3cb"/>
<circle cx="67.15" cy="503.5" r="2.3" fill="#5ec3cb"/>
<circle cx="75.4" cy="503.5" r="2.3" fill="#5ec3cb"/>
<circle cx="83.65" cy="503.5" r="2.3" fill="#5ec3cb"/>
<circle cx="91.9" cy="503.5" r="2.3" fill="#5ec3cb"/>
<circle cx="100.15" cy="503.5" r="2.3" fill="#5ec3cb"/>
<circle cx="108.4" cy="503.5" r="2.3" fill="#5ec3cb"/>
<circle cx="116.65" cy="503.5" r="2.3" fill="#5ec3cb"/>
<circle cx="124.9" cy="503.5" r="2.3" fill="#5ec3cb"/>
<circle cx="133.15" cy="503.5" r="2.3" fill="#5ec3cb"/>
<circle cx="141.4" cy="503.5" r="2.3" fill="#5ec3cb"/>
<circle cx="149.65" cy="503.5" r="2.3" fill="#5ec3cb"/>
<circle cx="157.9" cy="503.5" r="2.3" fill="#5ec3cb"/>
<circle cx="166.15" cy="503.5" r="2.3" fill="#5ec3cb"/>
<circle cx="174.4" cy="503.5" r="2.3" fill="#5ec3cb"/>
<circle cx="182.65" cy="503.2" r="2.3" fill="#5ec3cb"/>
<circle cx="190.9" cy="502" r="2.3" fill="#5ec3cb"/>
<circle cx="199.15" cy="500.4" r="2.3" fill="#5ec3cb"/>
<circle cx="207.4" cy="497.6" r="2.3" fill="#5ec3cb"/>
<circle cx="215.65" cy="491.9" r="2.3" fill="#5ec3cb"/>
<circle cx="223.9" cy="483.8" r="2.3" fill="#5ec3cb"/>
<circle cx="232.15" cy="471.2" r="2.3" fill="#5ec3cb"/>
<circle cx="240.4" cy="458" r="2.3" fill="#5ec3cb"/>
<circle cx="248.65" cy="444.5" r="2.3" fill="#5ec3cb"/>
<circle cx="256.9" cy="432.2" r="2.3" fill="#5ec3cb"/>
<circle cx="265.15" cy="423.2" r="2.3" fill="#5ec3cb"/>
<circle cx="273.4" cy="417.2" r="2.3" fill="#5ec3cb"/>
<circle cx="281.65" cy="411.9" r="2.3" fill="#5ec3cb"/>
<path d="M58.90,503.50 L67.15,503.50 L75.40,503.50 L83.65,503.50 L91.90,503.50 L100.15,503.50 L108.40,503.50 L116.65,503.50 L124.90,503.50 L133.15,503.50 L141.40,503.50 L149.65,503.50 L157.90,503.50 L166.15,503.00 L174.40,501.80 L182.65,498.50 L190.90,493.80 L199.15,485.30 L207.40,473.70 L215.65,457.10 L223.90,438.60 L232.15,421.50 L240.40,405.00 L248.65,391.20 L256.90,380.50 L265.15,373.00 L273.40,365.80 L281.65,361.60 L289.90,358.60" fill="none" stroke="#1f4fa6" stroke-width="1.7"/>
<path d="M56.1,501.3 L61.699999999999996,501.3 L58.9,506.3 Z" fill="#1f4fa6"/>
<path d="M64.35000000000001,501.3 L69.95,501.3 L67.15,506.3 Z" fill="#1f4fa6"/>
<path d="M72.60000000000001,501.3 L78.2,501.3 L75.4,506.3 Z" fill="#1f4fa6"/>
<path d="M80.85000000000001,501.3 L86.45,501.3 L83.65,506.3 Z" fill="#1f4fa6"/>
<path d="M89.10000000000001,501.3 L94.7,501.3 L91.9,506.3 Z" fill="#1f4fa6"/>
<path d="M97.35000000000001,501.3 L102.95,501.3 L100.15,506.3 Z" fill="#1f4fa6"/>
<path d="M105.60000000000001,501.3 L111.2,501.3 L108.4,506.3 Z" fill="#1f4fa6"/>
<path d="M113.85000000000001,501.3 L119.45,501.3 L116.65,506.3 Z" fill="#1f4fa6"/>
<path d="M122.10000000000001,501.3 L127.7,501.3 L124.9,506.3 Z" fill="#1f4fa6"/>
<path d="M130.35,501.3 L135.95000000000002,501.3 L133.15,506.3 Z" fill="#1f4fa6"/>
<path d="M138.6,501.3 L144.20000000000002,501.3 L141.4,506.3 Z" fill="#1f4fa6"/>
<path d="M146.85,501.3 L152.45000000000002,501.3 L149.65,506.3 Z" fill="#1f4fa6"/>
<path d="M155.1,501.3 L160.70000000000002,501.3 L157.9,506.3 Z" fill="#1f4fa6"/>
<path d="M163.35,500.8 L168.95000000000002,500.8 L166.15,505.8 Z" fill="#1f4fa6"/>
<path d="M171.6,499.6 L177.20000000000002,499.6 L174.4,504.6 Z" fill="#1f4fa6"/>
<path d="M179.85,496.3 L185.45000000000002,496.3 L182.65,501.3 Z" fill="#1f4fa6"/>
<path d="M188.1,491.6 L193.70000000000002,491.6 L190.9,496.6 Z" fill="#1f4fa6"/>
<path d="M196.35,483.1 L201.95000000000002,483.1 L199.15,488.1 Z" fill="#1f4fa6"/>
<path d="M204.6,471.5 L210.20000000000002,471.5 L207.4,476.5 Z" fill="#1f4fa6"/>
<path d="M212.85,454.90000000000003 L218.45000000000002,454.90000000000003 L215.65,459.90000000000003 Z" fill="#1f4fa6"/>
<path d="M221.1,436.40000000000003 L226.70000000000002,436.40000000000003 L223.9,441.40000000000003 Z" fill="#1f4fa6"/>
<path d="M229.35,419.3 L234.95000000000002,419.3 L232.15,424.3 Z" fill="#1f4fa6"/>
<path d="M237.6,402.8 L243.20000000000002,402.8 L240.4,407.8 Z" fill="#1f4fa6"/>
<path d="M245.85,389.0 L251.45000000000002,389.0 L248.65,394.0 Z" fill="#1f4fa6"/>
<path d="M254.09999999999997,378.3 L259.7,378.3 L256.9,383.3 Z" fill="#1f4fa6"/>
<path d="M262.34999999999997,370.8 L267.95,370.8 L265.15,375.8 Z" fill="#1f4fa6"/>
<path d="M270.59999999999997,363.6 L276.2,363.6 L273.4,368.6 Z" fill="#1f4fa6"/>
<path d="M278.84999999999997,359.40000000000003 L284.45,359.40000000000003 L281.65,364.40000000000003 Z" fill="#1f4fa6"/>
<path d="M58.90,503.50 L67.15,503.50 L75.40,503.50 L83.65,503.50 L91.90,503.50 L100.15,503.50 L108.40,503.50 L116.65,503.50 L124.90,503.50 L133.15,503.50 L141.40,502.50 L149.65,501.00 L157.90,498.00 L166.15,492.40 L174.40,483.60 L182.65,471.30 L190.90,456.10 L199.15,437.90 L207.40,420.40 L215.65,402.50 L223.90,388.00 L232.15,375.60 L240.40,365.80 L248.65,359.20 L256.90,354.50 L265.15,350.70 L273.40,349.40 L281.65,347.90 L289.90,347.00" fill="none" stroke="#e23232" stroke-width="1.7"/>
<rect x="56.6" y="501.2" width="4.6" height="4.6" fill="#e23232"/>
<rect x="64.85000000000001" y="501.2" width="4.6" height="4.6" fill="#e23232"/>
<rect x="73.10000000000001" y="501.2" width="4.6" height="4.6" fill="#e23232"/>
<rect x="81.35000000000001" y="501.2" width="4.6" height="4.6" fill="#e23232"/>
<rect x="89.60000000000001" y="501.2" width="4.6" height="4.6" fill="#e23232"/>
<rect x="97.85000000000001" y="501.2" width="4.6" height="4.6" fill="#e23232"/>
<rect x="106.10000000000001" y="501.2" width="4.6" height="4.6" fill="#e23232"/>
<rect x="114.35000000000001" y="501.2" width="4.6" height="4.6" fill="#e23232"/>
<rect x="122.60000000000001" y="501.2" width="4.6" height="4.6" fill="#e23232"/>
<rect x="130.85" y="501.2" width="4.6" height="4.6" fill="#e23232"/>
<rect x="139.1" y="500.2" width="4.6" height="4.6" fill="#e23232"/>
<rect x="147.35" y="498.7" width="4.6" height="4.6" fill="#e23232"/>
<rect x="155.6" y="495.7" width="4.6" height="4.6" fill="#e23232"/>
<rect x="163.85" y="490.09999999999997" width="4.6" height="4.6" fill="#e23232"/>
<rect x="172.1" y="481.3" width="4.6" height="4.6" fill="#e23232"/>
<rect x="180.35" y="469.0" width="4.6" height="4.6" fill="#e23232"/>
<rect x="188.6" y="453.8" width="4.6" height="4.6" fill="#e23232"/>
<rect x="196.85" y="435.59999999999997" width="4.6" height="4.6" fill="#e23232"/>
<rect x="205.1" y="418.09999999999997" width="4.6" height="4.6" fill="#e23232"/>
<rect x="213.35" y="400.2" width="4.6" height="4.6" fill="#e23232"/>
<rect x="221.6" y="385.7" width="4.6" height="4.6" fill="#e23232"/>
<rect x="229.85" y="373.3" width="4.6" height="4.6" fill="#e23232"/>
<rect x="238.1" y="363.5" width="4.6" height="4.6" fill="#e23232"/>
<rect x="246.35" y="356.9" width="4.6" height="4.6" fill="#e23232"/>
<rect x="254.59999999999997" y="352.2" width="4.6" height="4.6" fill="#e23232"/>
<rect x="262.84999999999997" y="348.4" width="4.6" height="4.6" fill="#e23232"/>
<rect x="271.09999999999997" y="347.09999999999997" width="4.6" height="4.6" fill="#e23232"/>
<rect x="279.34999999999997" y="345.59999999999997" width="4.6" height="4.6" fill="#e23232"/>
<line x1="58.9" y1="504.5" x2="290" y2="504.5" stroke="#4a4a4a" stroke-width="2.2"/>
<line x1="58.9" y1="502.6" x2="290" y2="502.6" stroke="#b454b8" stroke-width="1.7"/>
<path d="M56.9,502.4 L60.9,506.2 M60.9,502.4 L56.9,506.2" stroke="#111" stroke-width="1.4"/>
<path d="M57.5,502.6 L60.3,502.6 L58.9,500 Z" fill="#a040a8"/>
<path d="M65.15,502.4 L69.15,506.2 M69.15,502.4 L65.15,506.2" stroke="#111" stroke-width="1.4"/>
<path d="M65.75,502.6 L68.55000000000001,502.6 L67.15,500 Z" fill="#a040a8"/>
<path d="M73.4,502.4 L77.4,506.2 M77.4,502.4 L73.4,506.2" stroke="#111" stroke-width="1.4"/>
<path d="M74.0,502.6 L76.80000000000001,502.6 L75.4,500 Z" fill="#a040a8"/>
<path d="M81.65,502.4 L85.65,506.2 M85.65,502.4 L81.65,506.2" stroke="#111" stroke-width="1.4"/>
<path d="M82.25,502.6 L85.05000000000001,502.6 L83.65,500 Z" fill="#a040a8"/>
<path d="M89.9,502.4 L93.9,506.2 M93.9,502.4 L89.9,506.2" stroke="#111" stroke-width="1.4"/>
<path d="M90.5,502.6 L93.30000000000001,502.6 L91.9,500 Z" fill="#a040a8"/>
<path d="M98.15,502.4 L102.15,506.2 M102.15,502.4 L98.15,506.2" stroke="#111" stroke-width="1.4"/>
<path d="M98.75,502.6 L101.55000000000001,502.6 L100.15,500 Z" fill="#a040a8"/>
<path d="M106.4,502.4 L110.4,506.2 M110.4,502.4 L106.4,506.2" stroke="#111" stroke-width="1.4"/>
<path d="M107.0,502.6 L109.80000000000001,502.6 L108.4,500 Z" fill="#a040a8"/>
<path d="M114.65,502.4 L118.65,506.2 M118.65,502.4 L114.65,506.2" stroke="#111" stroke-width="1.4"/>
<path d="M115.25,502.6 L118.05000000000001,502.6 L116.65,500 Z" fill="#a040a8"/>
<path d="M122.9,502.4 L126.9,506.2 M126.9,502.4 L122.9,506.2" stroke="#111" stroke-width="1.4"/>
<path d="M123.5,502.6 L126.30000000000001,502.6 L124.9,500 Z" fill="#a040a8"/>
<path d="M131.15,502.4 L135.15,506.2 M135.15,502.4 L131.15,506.2" stroke="#111" stroke-width="1.4"/>
<path d="M131.75,502.6 L134.55,502.6 L133.15,500 Z" fill="#a040a8"/>
<path d="M139.4,502.4 L143.4,506.2 M143.4,502.4 L139.4,506.2" stroke="#111" stroke-width="1.4"/>
<path d="M140.0,502.6 L142.8,502.6 L141.4,500 Z" fill="#a040a8"/>
<path d="M147.65,502.4 L151.65,506.2 M151.65,502.4 L147.65,506.2" stroke="#111" stroke-width="1.4"/>
<path d="M148.25,502.6 L151.05,502.6 L149.65,500 Z" fill="#a040a8"/>
<path d="M155.9,502.4 L159.9,506.2 M159.9,502.4 L155.9,506.2" stroke="#111" stroke-width="1.4"/>
<path d="M156.5,502.6 L159.3,502.6 L157.9,500 Z" fill="#a040a8"/>
<path d="M164.15,502.4 L168.15,506.2 M168.15,502.4 L164.15,506.2" stroke="#111" stroke-width="1.4"/>
<path d="M164.75,502.6 L167.55,502.6 L166.15,500 Z" fill="#a040a8"/>
<path d="M172.4,502.4 L176.4,506.2 M176.4,502.4 L172.4,506.2" stroke="#111" stroke-width="1.4"/>
<path d="M173.0,502.6 L175.8,502.6 L174.4,500 Z" fill="#a040a8"/>
<path d="M180.65,502.4 L184.65,506.2 M184.65,502.4 L180.65,506.2" stroke="#111" stroke-width="1.4"/>
<path d="M181.25,502.6 L184.05,502.6 L182.65,500 Z" fill="#a040a8"/>
<path d="M188.9,502.4 L192.9,506.2 M192.9,502.4 L188.9,506.2" stroke="#111" stroke-width="1.4"/>
<path d="M189.5,502.6 L192.3,502.6 L190.9,500 Z" fill="#a040a8"/>
<path d="M197.15,502.4 L201.15,506.2 M201.15,502.4 L197.15,506.2" stroke="#111" stroke-width="1.4"/>
<path d="M197.75,502.6 L200.55,502.6 L199.15,500 Z" fill="#a040a8"/>
<path d="M205.4,502.4 L209.4,506.2 M209.4,502.4 L205.4,506.2" stroke="#111" stroke-width="1.4"/>
<path d="M206.0,502.6 L208.8,502.6 L207.4,500 Z" fill="#a040a8"/>
<path d="M213.65,502.4 L217.65,506.2 M217.65,502.4 L213.65,506.2" stroke="#111" stroke-width="1.4"/>
<path d="M214.25,502.6 L217.05,502.6 L215.65,500 Z" fill="#a040a8"/>
<path d="M221.9,502.4 L225.9,506.2 M225.9,502.4 L221.9,506.2" stroke="#111" stroke-width="1.4"/>
<path d="M222.5,502.6 L225.3,502.6 L223.9,500 Z" fill="#a040a8"/>
<path d="M230.15,502.4 L234.15,506.2 M234.15,502.4 L230.15,506.2" stroke="#111" stroke-width="1.4"/>
<path d="M230.75,502.6 L233.55,502.6 L232.15,500 Z" fill="#a040a8"/>
<path d="M238.4,502.4 L242.4,506.2 M242.4,502.4 L238.4,506.2" stroke="#111" stroke-width="1.4"/>
<path d="M239.0,502.6 L241.8,502.6 L240.4,500 Z" fill="#a040a8"/>
<path d="M246.65,502.4 L250.65,506.2 M250.65,502.4 L246.65,506.2" stroke="#111" stroke-width="1.4"/>
<path d="M247.25,502.6 L250.05,502.6 L248.65,500 Z" fill="#a040a8"/>
<path d="M254.89999999999998,502.4 L258.9,506.2 M258.9,502.4 L254.89999999999998,506.2" stroke="#111" stroke-width="1.4"/>
<path d="M255.49999999999997,502.6 L258.29999999999995,502.6 L256.9,500 Z" fill="#a040a8"/>
<path d="M263.15,502.4 L267.15,506.2 M267.15,502.4 L263.15,506.2" stroke="#111" stroke-width="1.4"/>
<path d="M263.75,502.6 L266.54999999999995,502.6 L265.15,500 Z" fill="#a040a8"/>
<path d="M271.4,502.4 L275.4,506.2 M275.4,502.4 L271.4,506.2" stroke="#111" stroke-width="1.4"/>
<path d="M272.0,502.6 L274.79999999999995,502.6 L273.4,500 Z" fill="#a040a8"/>
<path d="M279.65,502.4 L283.65,506.2 M283.65,502.4 L279.65,506.2" stroke="#111" stroke-width="1.4"/>
<path d="M280.25,502.6 L283.04999999999995,502.6 L281.65,500 Z" fill="#a040a8"/>
<text x="173" y="475" font-size="11" fill="#333" text-anchor="middle" >1</text>
<text x="198.5" y="475" font-size="11" fill="#333" text-anchor="middle" >2</text>
<text x="223" y="475" font-size="11" fill="#333" text-anchor="middle" >3</text>
<text x="271.5" y="498" font-size="11" fill="#333" text-anchor="middle" >4/5</text>
<text x="296" y="322" font-size="20" fill="#231f20" text-anchor="start" >e.</text>
<line x1="323.3" y1="331.7" x2="483" y2="331.7" stroke="#3ea39d" stroke-width="2"/>
<line x1="476" y1="331.7" x2="483" y2="331.7" stroke="#17a04a" stroke-width="2"/>
<path d="M481,328.1 L493.5,331.7 L481,335.2 Z" fill="#17a04a"/>
<line x1="518.3" y1="331.8" x2="637.3" y2="331.8" stroke="#d9434b" stroke-width="2"/>
<line x1="785" y1="331.6" x2="904.6" y2="331.6" stroke="#3a7ec4" stroke-width="2"/>
<path d="M787.5,328.1 L774.4,331.6 L787.5,335 Z" fill="#2a6fba"/>
<text x="410" y="329" font-size="12" fill="#333" text-anchor="middle" >AP</text>
<text x="593" y="328.7" font-size="12" fill="#333" text-anchor="middle" >FR</text>
<text x="845" y="329" font-size="12" fill="#333" text-anchor="middle" >TSP</text>
<text transform="scale(0.8,1)" y="343.1" font-size="9.3" fill="#5a5a5a" stroke="#5a5a5a" stroke-width="0.25" text-anchor="middle" x="408.00 417.37 426.75 435.12 444.25 453.62 461.62 471.00 477.75 487.12 495.75 505.12 513.25 521.62 530.75 540.88 550.25 559.62 568.38 580.38 589.12 597.75 605.88 614.50 624.62 635.25 642.50 652.25 661.00 670.37 679.75 689.12 697.75 707.12 715.88 720.62 732.00 741.38 750.75 760.75 770.37 779.75 790.37 800.50 809.12 817.87 827.25 836.62 844.62 852.75 862.12 870.75 881.25 891.12 899.75 909.12 917.87 926.62 935.25 945.37 954.00 959.38 967.50 977.50 986.25 996.88 1007.37 1015.50 1021.88 1031.50 1040.37 1049.25 1062.87 1075.75 1085.37 1092.62 1099.88 1109.50 1116.75 1125.62 1132.87">GCCTGTCAGCCAACGGTATTCATCTTTGCCGCAGCTGGATGGGATCATTTCGGACTTCGAAGGTGGGTGCTGGGCTGGCAA</text>
<path d="M320.6,511.2 L321.1,511.2 L321.6,511.2 L322.1,511.2 L322.6,511.2 L323.1,511.2 L323.6,511.2 L324.1,511.2 L324.6,511.2 L325.1,511.2 L325.6,511.2 L326.1,511.2 L326.6,511.2 L327.1,511.2 L327.6,511.2 L328.1,511.2 L328.6,511.2 L329.1,511.2 L329.6,511.2 L330.1,511.2 L330.6,511.2 L331.1,511.2 L331.6,511.2 L332.1,511.2 L332.6,511.2 L333.1,511.2 L333.6,511.2 L334.1,511.2 L334.6,511.2 L335.1,511.2 L335.6,511.2 L336.1,511.2 L336.6,511.2 L337.1,511.2 L337.6,511.2 L338.1,511.2 L338.6,511.2 L339.1,511.2 L339.6,511.2 L340.1,511.2 L340.6,511.2 L341.1,511.2 L341.6,511.2 L342.1,511.2 L342.6,511.2 L343.1,511.2 L343.6,511.2 L344.1,511.2 L344.6,511.2 L345.1,511.2 L345.6,511.2 L346.1,511.2 L346.6,511.2 L347.1,511.2 L347.6,511.2 L348.1,511.2 L348.6,511.2 L349.1,511.2 L349.6,511.2 L350.1,511.2 L350.6,511.2 L351.1,511.2 L351.6,511.2 L352.1,511.2 L352.6,511.2 L353.1,511.2 L353.6,511.2 L354.1,511.2 L354.6,511.2 L355.1,511.2 L355.6,511.2 L356.1,511.2 L356.6,511.2 L357.1,511.2 L357.6,511.2 L358.1,511.2 L358.6,511.2 L359.1,511.2 L359.6,511.2 L360.1,511.2 L360.6,511.2 L361.1,511.2 L361.6,511.2 L362.1,511.2 L362.6,511.2 L363.1,511.2 L363.6,511.2 L364.1,511.2 L364.6,511.2 L365.1,511.2 L365.6,511.2 L366.1,511.2 L366.6,511.2 L367.1,511.2 L367.6,511.2 L368.1,511.2 L368.6,511.2 L369.1,511.2 L369.6,511.1 L370.1,511.1 L370.6,510.9 L371.1,510.5 L371.6,509.8 L372.1,508.6 L372.6,506.6 L373.1,503.5 L373.6,499.3 L374.1,493.7 L374.6,487.1 L375.1,480.1 L375.6,473.5 L376.1,468.2 L376.6,465.1 L377.1,464.8 L377.6,467.4 L378.1,472.3 L378.6,478.7 L379.1,485.8 L379.6,492.5 L380.1,498.2 L380.6,502.8 L381.1,506.1 L381.6,508.3 L382.1,509.6 L382.6,510.4 L383.1,510.8 L383.6,511.0 L384.1,511.1 L384.6,511.2 L385.1,511.2 L385.6,511.2 L386.1,511.2 L386.6,511.2 L387.1,511.2 L387.6,511.2 L388.1,511.2 L388.6,511.2 L389.1,511.2 L389.6,511.2 L390.1,511.2 L390.6,511.2 L391.1,511.2 L391.6,511.2 L392.1,511.2 L392.6,511.2 L393.1,511.2 L393.6,511.2 L394.1,511.2 L394.6,511.2 L395.1,511.2 L395.6,511.1 L396.1,511.1 L396.6,510.9 L397.1,510.6 L397.6,510.1 L398.1,509.2 L398.6,507.9 L399.1,505.8 L399.6,502.9 L400.1,498.8 L400.6,493.7 L401.1,487.4 L401.6,480.4 L402.1,473.1 L402.6,466.1 L403.1,460.1 L403.6,455.7 L404.1,453.4 L404.6,453.3 L405.1,455.0 L405.6,458.1 L406.1,461.5 L406.6,464.6 L407.1,466.3 L407.6,466.4 L408.1,464.6 L408.6,461.5 L409.1,457.6 L409.6,453.8 L410.1,451.2 L410.6,450.4 L411.1,451.8 L411.6,455.5 L412.1,461.2 L412.6,468.2 L413.1,475.8 L413.6,483.4 L414.1,490.3 L414.6,496.2 L415.1,500.9 L415.6,504.4 L416.1,507.0 L416.6,508.7 L417.1,509.7 L417.6,510.4 L418.1,510.8 L418.6,511.0 L419.1,511.1 L419.6,511.2 L420.1,511.2 L420.6,511.2 L421.1,511.2 L421.6,511.2 L422.1,511.2 L422.6,511.2 L423.1,511.2 L423.6,511.2 L424.1,511.2 L424.6,511.2 L425.1,511.2 L425.6,511.2 L426.1,511.2 L426.6,511.2 L427.1,511.2 L427.6,511.2 L428.1,511.2 L428.6,511.2 L429.1,511.2 L429.6,511.2 L430.1,511.2 L430.6,511.2 L431.1,511.2 L431.6,511.2 L432.1,511.2 L432.6,511.2 L433.1,511.2 L433.6,511.2 L434.1,511.2 L434.6,511.2 L435.1,511.2 L435.6,511.2 L436.1,511.2 L436.6,511.2 L437.1,511.2 L437.6,511.2 L438.1,511.2 L438.6,511.2 L439.1,511.2 L439.6,511.2 L440.1,511.2 L440.6,511.2 L441.1,511.2 L441.6,511.1 L442.1,511.0 L442.6,510.7 L443.1,510.1 L443.6,508.9 L444.1,506.9 L444.6,503.5 L445.1,498.2 L445.6,490.7 L446.1,480.8 L446.6,468.9 L447.1,455.8 L447.6,443.1 L448.1,432.6 L448.6,425.9 L449.1,424.3 L449.6,428.0 L450.1,436.4 L450.6,448.0 L451.1,461.1 L451.6,473.8 L452.1,485.0 L452.6,494.0 L453.1,500.6 L453.6,505.0 L454.1,507.8 L454.6,509.5 L455.1,510.4 L455.6,510.8 L456.1,511.0 L456.6,511.1 L457.1,511.2 L457.6,511.2 L458.1,511.2 L458.6,511.2 L459.1,511.2 L459.6,511.2 L460.1,511.2 L460.6,511.2 L461.1,511.2 L461.6,511.2 L462.1,511.2 L462.6,511.2 L463.1,511.2 L463.6,511.2 L464.1,511.2 L464.6,511.2 L465.1,511.2 L465.6,511.2 L466.1,511.2 L466.6,511.2 L467.1,511.2 L467.6,511.2 L468.1,511.1 L468.6,511.0 L469.1,510.8 L469.6,510.4 L470.1,509.6 L470.6,508.1 L471.1,505.8 L471.6,502.2 L472.1,497.2 L472.6,490.7 L473.1,483.0 L473.6,474.8 L474.1,467.0 L474.6,460.8 L475.1,457.2 L475.6,456.9 L476.1,459.8 L476.6,465.6 L477.1,473.2 L477.6,481.4 L478.1,489.2 L478.6,496.0 L479.1,501.3 L479.6,505.2 L480.1,507.7 L480.6,509.3 L481.1,510.3 L481.6,510.8 L482.1,511.0 L482.6,511.1 L483.1,511.2 L483.6,511.2 L484.1,511.2 L484.6,511.2 L485.1,511.2 L485.6,511.2 L486.1,511.2 L486.6,511.2 L487.1,511.2 L487.6,511.2 L488.1,511.2 L488.6,511.2 L489.1,511.2 L489.6,511.2 L490.1,511.2 L490.6,511.2 L491.1,511.2 L491.6,511.2 L492.1,511.2 L492.6,511.2 L493.1,511.2 L493.6,511.2 L494.1,511.2 L494.6,511.2 L495.1,511.2 L495.6,511.2 L496.1,511.2 L496.6,511.2 L497.1,511.2 L497.6,511.2 L498.1,511.2 L498.6,511.2 L499.1,511.2 L499.6,511.2 L500.1,511.2 L500.6,511.2 L501.1,511.2 L501.6,511.2 L502.1,511.2 L502.6,511.2 L503.1,511.2 L503.6,511.2 L504.1,511.2 L504.6,511.2 L505.1,511.2 L505.6,511.2 L506.1,511.2 L506.6,511.2 L507.1,511.2 L507.6,511.2 L508.1,511.2 L508.6,511.2 L509.1,511.2 L509.6,511.2 L510.1,511.2 L510.6,511.2 L511.1,511.2 L511.6,511.2 L512.1,511.2 L512.6,511.2 L513.1,511.2 L513.6,511.2 L514.1,511.2 L514.6,511.2 L515.1,511.2 L515.6,511.2 L516.1,511.2 L516.6,511.2 L517.1,511.2 L517.6,511.2 L518.1,511.2 L518.6,511.2 L519.1,511.2 L519.6,511.2 L520.1,511.2 L520.6,511.2 L521.1,511.2 L521.6,511.2 L522.1,511.2 L522.6,511.2 L523.1,511.2 L523.6,511.2 L524.1,511.2 L524.6,511.2 L525.1,511.2 L525.6,511.2 L526.1,511.2 L526.6,511.2 L527.1,511.2 L527.6,511.2 L528.1,511.2 L528.6,511.2 L529.1,511.2 L529.6,511.2 L530.1,511.2 L530.6,511.2 L531.1,511.2 L531.6,511.2 L532.1,511.2 L532.6,511.2 L533.1,511.2 L533.6,511.2 L534.1,511.2 L534.6,511.2 L535.1,511.2 L535.6,511.2 L536.1,511.2 L536.6,511.2 L537.1,511.2 L537.6,511.2 L538.1,511.2 L538.6,511.2 L539.1,511.2 L539.6,511.2 L540.1,511.2 L540.6,511.2 L541.1,511.2 L541.6,511.2 L542.1,511.2 L542.6,511.2 L543.1,511.2 L543.6,511.2 L544.1,511.2 L544.6,511.2 L545.1,511.2 L545.6,511.2 L546.1,511.2 L546.6,511.2 L547.1,511.2 L547.6,511.2 L548.1,511.2 L548.6,511.2 L549.1,511.2 L549.6,511.2 L550.1,511.1 L550.6,511.0 L551.1,510.8 L551.6,510.3 L552.1,509.4 L552.6,507.7 L553.1,505.1 L553.6,501.1 L554.1,495.4 L554.6,488.1 L555.1,479.5 L555.6,470.2 L556.1,461.4 L556.6,454.4 L557.1,450.4 L557.6,450.0 L558.1,453.4 L558.6,459.8 L559.1,468.3 L559.6,477.6 L560.1,486.5 L560.6,494.1 L561.1,500.1 L561.6,504.4 L562.1,507.3 L562.6,509.1 L563.1,510.1 L563.6,510.7 L564.1,511.0 L564.6,511.1 L565.1,511.2 L565.6,511.2 L566.1,511.2 L566.6,511.2 L567.1,511.2 L567.6,511.2 L568.1,511.2 L568.6,511.2 L569.1,511.2 L569.6,511.2 L570.1,511.2 L570.6,511.2 L571.1,511.2 L571.6,511.2 L572.1,511.2 L572.6,511.2 L573.1,511.2 L573.6,511.2 L574.1,511.2 L574.6,511.2 L575.1,511.2 L575.6,511.2 L576.1,511.2 L576.6,511.2 L577.1,511.2 L577.6,511.2 L578.1,511.2 L578.6,511.2 L579.1,511.2 L579.6,511.2 L580.1,511.2 L580.6,511.2 L581.1,511.2 L581.6,511.2 L582.1,511.2 L582.6,511.2 L583.1,511.2 L583.6,511.2 L584.1,511.2 L584.6,511.2 L585.1,511.2 L585.6,511.2 L586.1,511.2 L586.6,511.2 L587.1,511.2 L587.6,511.2 L588.1,511.2 L588.6,511.2 L589.1,511.2 L589.6,511.2 L590.1,511.2 L590.6,511.2 L591.1,511.2 L591.6,511.2 L592.1,511.2 L592.6,511.2 L593.1,511.2 L593.6,511.2 L594.1,511.2 L594.6,511.2 L595.1,511.2 L595.6,511.2 L596.1,511.1 L596.6,511.1 L597.1,510.9 L597.6,510.5 L598.1,509.7 L598.6,508.3 L599.1,505.8 L599.6,501.7 L600.1,495.6 L600.6,487.3 L601.1,476.6 L601.6,464.2 L602.1,451.2 L602.6,439.3 L603.1,430.2 L603.6,425.5 L604.1,426.1 L604.6,431.7 L605.1,441.5 L605.6,453.8 L606.1,466.8 L606.6,478.9 L607.1,489.1 L607.6,497.0 L608.1,502.7 L608.6,506.4 L609.1,508.6 L609.6,509.9 L610.1,510.6 L610.6,510.9 L611.1,511.1 L611.6,511.2 L612.1,511.2 L612.6,511.2 L613.1,511.2 L613.6,511.2 L614.1,511.2 L614.6,511.2 L615.1,511.2 L615.6,511.2 L616.1,511.2 L616.6,511.2 L617.1,511.2 L617.6,511.2 L618.1,511.2 L618.6,511.2 L619.1,511.2 L619.6,511.2 L620.1,511.2 L620.6,511.2 L621.1,511.2 L621.6,511.2 L622.1,511.2 L622.6,511.2 L623.1,511.2 L623.6,511.2 L624.1,511.2 L624.6,511.2 L625.1,511.2 L625.6,511.2 L626.1,511.2 L626.6,511.2 L627.1,511.2 L627.6,511.2 L628.1,511.2 L628.6,511.2 L629.1,511.2 L629.6,511.2 L630.1,511.2 L630.6,511.2 L631.1,511.2 L631.6,511.2 L632.1,511.2 L632.6,511.2 L633.1,511.1 L633.6,511.0 L634.1,510.8 L634.6,510.3 L635.1,509.4 L635.6,507.7 L636.1,504.6 L636.6,499.7 L637.1,492.4 L637.6,482.3 L638.1,469.3 L638.6,454.4 L639.1,438.7 L639.6,424.2 L640.1,413.3 L640.6,407.6 L641.1,408.3 L641.6,415.1 L642.1,426.9 L642.6,441.8 L643.1,457.5 L643.6,472.1 L644.1,484.5 L644.6,494.1 L645.1,500.9 L645.6,505.4 L646.1,508.1 L646.6,509.6 L647.1,510.5 L647.6,510.9 L648.1,511.1 L648.6,511.1 L649.1,511.2 L649.6,511.2 L650.1,511.2 L650.6,511.2 L651.1,511.2 L651.6,511.2 L652.1,511.1 L652.6,511.0 L653.1,510.8 L653.6,510.3 L654.1,509.5 L654.6,508.0 L655.1,505.7 L655.6,502.1 L656.1,497.2 L656.6,491.0 L657.1,483.7 L657.6,476.2 L658.1,469.2 L658.6,463.9 L659.1,461.2 L659.6,461.5 L660.1,464.8 L660.6,470.5 L661.1,477.7 L661.6,485.2 L662.1,492.3 L662.6,498.3 L663.1,502.9 L663.6,506.2 L664.1,508.4 L664.6,509.7 L665.1,510.4 L665.6,510.8 L666.1,511.0 L666.6,511.1 L667.1,511.2 L667.6,511.2 L668.1,511.2 L668.6,511.2 L669.1,511.2 L669.6,511.2 L670.1,511.2 L670.6,511.2 L671.1,511.2 L671.6,511.2 L672.1,511.2 L672.6,511.2 L673.1,511.2 L673.6,511.2 L674.1,511.2 L674.6,511.2 L675.1,511.2 L675.6,511.2 L676.1,511.2 L676.6,511.2 L677.1,511.2 L677.6,511.2 L678.1,511.2 L678.6,511.2 L679.1,511.2 L679.6,511.2 L680.1,511.2 L680.6,511.2 L681.1,511.2 L681.6,511.2 L682.1,511.2 L682.6,511.2 L683.1,511.2 L683.6,511.2 L684.1,511.2 L684.6,511.2 L685.1,511.2 L685.6,511.2 L686.1,511.2 L686.6,511.2 L687.1,511.2 L687.6,511.2 L688.1,511.2 L688.6,511.2 L689.1,511.2 L689.6,511.2 L690.1,511.2 L690.6,511.2 L691.1,511.2 L691.6,511.2 L692.1,511.2 L692.6,511.2 L693.1,511.2 L693.6,511.2 L694.1,511.2 L694.6,511.2 L695.1,511.2 L695.6,511.2 L696.1,511.2 L696.6,511.2 L697.1,511.2 L697.6,511.2 L698.1,511.2 L698.6,511.2 L699.1,511.2 L699.6,511.2 L700.1,511.2 L700.6,511.2 L701.1,511.2 L701.6,511.2 L702.1,511.2 L702.6,511.2 L703.1,511.2 L703.6,511.2 L704.1,511.2 L704.6,511.2 L705.1,511.2 L705.6,511.1 L706.1,511.0 L706.6,510.6 L707.1,509.9 L707.6,508.6 L708.1,506.1 L708.6,501.8 L709.1,495.1 L709.6,485.1 L710.1,471.5 L710.6,454.5 L711.1,435.2 L711.6,415.4 L712.1,397.8 L712.6,385.1 L713.1,379.5 L713.6,381.9 L714.1,392.0 L714.6,408.0 L715.1,427.2 L715.6,447.0 L716.1,465.1 L716.6,480.1 L717.1,491.5 L717.6,499.5 L718.1,504.6 L718.6,507.8 L719.1,509.5 L719.6,510.4 L720.1,510.9 L720.6,511.1 L721.1,511.1 L721.6,511.2 L722.1,511.2 L722.6,511.2 L723.1,511.2 L723.6,511.2 L724.1,511.2 L724.6,511.2 L725.1,511.2 L725.6,511.2 L726.1,511.2 L726.6,511.2 L727.1,511.2 L727.6,511.2 L728.1,511.2 L728.6,511.2 L729.1,511.2 L729.6,511.2 L730.1,511.2 L730.6,511.2 L731.1,511.2 L731.6,511.2 L732.1,511.2 L732.6,511.2 L733.1,511.2 L733.6,511.2 L734.1,511.2 L734.6,511.2 L735.1,511.2 L735.6,511.2 L736.1,511.2 L736.6,511.2 L737.1,511.2 L737.6,511.2 L738.1,511.2 L738.6,511.2 L739.1,511.2 L739.6,511.2 L740.1,511.2 L740.6,511.2 L741.1,511.2 L741.6,511.2 L742.1,511.2 L742.6,511.2 L743.1,511.2 L743.6,511.2 L744.1,511.2 L744.6,511.2 L745.1,511.2 L745.6,511.2 L746.1,511.2 L746.6,511.2 L747.1,511.2 L747.6,511.1 L748.1,511.0 L748.6,510.8 L749.1,510.4 L749.6,509.5 L750.1,507.8 L750.6,505.1 L751.1,500.9 L751.6,494.7 L752.1,486.4 L752.6,476.2 L753.1,464.9 L753.6,453.5 L754.1,443.7 L754.6,437.1 L755.1,434.6 L755.6,436.7 L756.1,442.8 L756.6,451.6 L757.1,461.1 L757.6,469.5 L758.1,475.2 L758.6,476.9 L759.1,474.6 L759.6,468.5 L760.1,460.0 L760.6,450.6 L761.1,442.4 L761.6,437.1 L762.1,435.9 L762.6,439.2 L763.1,446.5 L763.6,456.6 L764.1,467.9 L764.6,478.9 L765.1,488.6 L765.6,496.3 L766.1,502.0 L766.6,505.9 L767.1,508.3 L767.6,509.7 L768.1,510.5 L768.6,510.9 L769.1,511.1 L769.6,511.1 L770.1,511.2 L770.6,511.2 L771.1,511.2 L771.6,511.2 L772.1,511.2 L772.6,511.2 L773.1,511.2 L773.6,511.2 L774.1,511.2 L774.6,511.2 L775.1,511.2 L775.6,511.2 L776.1,511.2 L776.6,511.2 L777.1,511.2 L777.6,511.2 L778.1,511.2 L778.6,511.2 L779.1,511.2 L779.6,511.2 L780.1,511.2 L780.6,511.2 L781.1,511.2 L781.6,511.2 L782.1,511.2 L782.6,511.2 L783.1,511.2 L783.6,511.2 L784.1,511.2 L784.6,511.2 L785.1,511.2 L785.6,511.2 L786.1,511.2 L786.6,511.2 L787.1,511.2 L787.6,511.2 L788.1,511.2 L788.6,511.2 L789.1,511.2 L789.6,511.2 L790.1,511.2 L790.6,511.2 L791.1,511.2 L791.6,511.2 L792.1,511.2 L792.6,511.2 L793.1,511.2 L793.6,511.2 L794.1,511.2 L794.6,511.2 L795.1,511.2 L795.6,511.2 L796.1,511.2 L796.6,511.2 L797.1,511.2 L797.6,511.2 L798.1,511.2 L798.6,511.2 L799.1,511.2 L799.6,511.2 L800.1,511.2 L800.6,511.2 L801.1,511.2 L801.6,511.2 L802.1,511.2 L802.6,511.2 L803.1,511.2 L803.6,511.2 L804.1,511.2 L804.6,511.2 L805.1,511.2 L805.6,511.2 L806.1,511.2 L806.6,511.2 L807.1,511.2 L807.6,511.2 L808.1,511.2 L808.6,511.2 L809.1,511.2 L809.6,511.2 L810.1,511.2 L810.6,511.2 L811.1,511.2 L811.6,511.2 L812.1,511.2 L812.6,511.2 L813.1,511.2 L813.6,511.2 L814.1,511.2 L814.6,511.2 L815.1,511.2 L815.6,511.2 L816.1,511.2 L816.6,511.2 L817.1,511.2 L817.6,511.2 L818.1,511.2 L818.6,511.2 L819.1,511.2 L819.6,511.2 L820.1,511.2 L820.6,511.2 L821.1,511.2 L821.6,511.2 L822.1,511.2 L822.6,511.2 L823.1,511.2 L823.6,511.2 L824.1,511.2 L824.6,511.2 L825.1,511.2 L825.6,511.2 L826.1,511.2 L826.6,511.2 L827.1,511.2 L827.6,511.2 L828.1,511.2 L828.6,511.2 L829.1,511.2 L829.6,511.2 L830.1,511.2 L830.6,511.2 L831.1,511.2 L831.6,511.2 L832.1,511.2 L832.6,511.2 L833.1,511.2 L833.6,511.2 L834.1,511.2 L834.6,511.2 L835.1,511.2 L835.6,511.2 L836.1,511.2 L836.6,511.2 L837.1,511.2 L837.6,511.2 L838.1,511.2 L838.6,511.2 L839.1,511.2 L839.6,511.2 L840.1,511.2 L840.6,511.2 L841.1,511.2 L841.6,511.2 L842.1,511.2 L842.6,511.2 L843.1,511.2 L843.6,511.2 L844.1,511.2 L844.6,511.2 L845.1,511.2 L845.6,511.2 L846.1,511.2 L846.6,511.2 L847.1,511.2 L847.6,511.2 L848.1,511.2 L848.6,511.2 L849.1,511.2 L849.6,511.2 L850.1,511.2 L850.6,511.2 L851.1,511.2 L851.6,511.2 L852.1,511.2 L852.6,511.2 L853.1,511.2 L853.6,511.2 L854.1,511.2 L854.6,511.2 L855.1,511.2 L855.6,511.2 L856.1,511.2 L856.6,511.2 L857.1,511.2 L857.6,511.2 L858.1,511.2 L858.6,511.2 L859.1,511.2 L859.6,511.2 L860.1,511.2 L860.6,511.2 L861.1,511.2 L861.6,511.2 L862.1,511.2 L862.6,511.2 L863.1,511.2 L863.6,511.2 L864.1,511.2 L864.6,511.2 L865.1,511.2 L865.6,511.2 L866.1,511.2 L866.6,511.2 L867.1,511.2 L867.6,511.2 L868.1,511.2 L868.6,511.2 L869.1,511.2 L869.6,511.2 L870.1,511.2 L870.6,511.2 L871.1,511.2 L871.6,511.2 L872.1,511.2 L872.6,511.2 L873.1,511.2 L873.6,511.2 L874.1,511.2 L874.6,511.2 L875.1,511.2 L875.6,511.2 L876.1,511.2 L876.6,511.2 L877.1,511.2 L877.6,511.2 L878.1,511.2 L878.6,511.2 L879.1,511.2 L879.6,511.2 L880.1,511.2 L880.6,511.2 L881.1,511.2 L881.6,511.2 L882.1,511.2 L882.6,511.2 L883.1,511.2 L883.6,511.2 L884.1,511.2 L884.6,511.2 L885.1,511.2 L885.6,511.2 L886.1,511.2 L886.6,511.2 L887.1,511.2 L887.6,511.2 L888.1,511.2 L888.6,511.2 L889.1,511.2 L889.6,511.2 L890.1,511.2 L890.6,511.2 L891.1,511.2 L891.6,511.2 L892.1,511.2 L892.6,511.2 L893.1,511.1 L893.6,511.1 L894.1,510.9 L894.6,510.6 L895.1,509.9 L895.6,508.7 L896.1,506.6 L896.6,503.5 L897.1,498.8 L897.6,492.6 L898.1,485.0 L898.6,476.5 L899.1,468.0 L899.6,460.7 L900.1,455.7 L900.6,453.9 L901.1,455.5 L901.6,460.2 L902.1,467.0 L902.6,474.5 L903.1,481.3 L903.6,486.1 L904.1,488.2 L904.6,487.1 L905.1,482.9 L905.6,476.5 L906.1,468.8 L906.6,461.3 L907.1,455.4 L907.6,452.4 L908.1,452.8 L908.6,456.7 L909.1,463.4 L909.6,471.8 L910.1,480.7" fill="none" stroke="#22934a" stroke-width="1.5" stroke-linejoin="round"/>
<path d="M320.6,445.8 L321.1,459.3 L321.6,472.5 L322.1,484.1 L322.6,493.4 L323.1,500.2 L323.6,504.8 L324.1,507.7 L324.6,509.4 L325.1,510.3 L325.6,510.8 L326.1,511.0 L326.6,511.1 L327.1,511.2 L327.6,511.2 L328.1,511.2 L328.6,511.2 L329.1,511.2 L329.6,511.2 L330.1,511.2 L330.6,511.2 L331.1,511.2 L331.6,511.2 L332.1,511.2 L332.6,511.2 L333.1,511.2 L333.6,511.2 L334.1,511.2 L334.6,511.2 L335.1,511.2 L335.6,511.2 L336.1,511.2 L336.6,511.2 L337.1,511.2 L337.6,511.2 L338.1,511.2 L338.6,511.2 L339.1,511.2 L339.6,511.2 L340.1,511.2 L340.6,511.2 L341.1,511.2 L341.6,511.1 L342.1,511.0 L342.6,510.8 L343.1,510.2 L343.6,509.3 L344.1,507.5 L344.6,504.6 L345.1,500.1 L345.6,493.8 L346.1,485.3 L346.6,475.2 L347.1,464.1 L347.6,453.3 L348.1,444.3 L348.6,438.7 L349.1,437.3 L349.6,440.5 L350.1,447.6 L350.6,457.5 L351.1,468.6 L351.6,479.4 L352.1,488.9 L352.6,496.6 L353.1,502.1 L353.6,505.9 L354.1,508.3 L354.6,509.7 L355.1,510.5 L355.6,510.9 L356.1,511.1 L356.6,511.1 L357.1,511.2 L357.6,511.2 L358.1,511.1 L358.6,511.0 L359.1,510.8 L359.6,510.3 L360.1,509.4 L360.6,507.9 L361.1,505.4 L361.6,501.7 L362.1,496.5 L362.6,490.0 L363.1,482.4 L363.6,474.5 L364.1,467.2 L364.6,461.6 L365.1,458.8 L365.6,459.1 L366.1,462.6 L366.6,468.5 L367.1,476.1 L367.6,484.0 L368.1,491.4 L368.6,497.7 L369.1,502.5 L369.6,506.0 L370.1,508.2 L370.6,509.6 L371.1,510.4 L371.6,510.8 L372.1,511.0 L372.6,511.1 L373.1,511.2 L373.6,511.2 L374.1,511.2 L374.6,511.2 L375.1,511.2 L375.6,511.2 L376.1,511.2 L376.6,511.2 L377.1,511.2 L377.6,511.2 L378.1,511.2 L378.6,511.2 L379.1,511.2 L379.6,511.2 L380.1,511.2 L380.6,511.2 L381.1,511.2 L381.6,511.2 L382.1,511.2 L382.6,511.2 L383.1,511.2 L383.6,511.2 L384.1,511.2 L384.6,511.2 L385.1,511.2 L385.6,511.2 L386.1,511.2 L386.6,511.2 L387.1,511.2 L387.6,511.2 L388.1,511.2 L388.6,511.2 L389.1,511.2 L389.6,511.2 L390.1,511.2 L390.6,511.2 L391.1,511.2 L391.6,511.2 L392.1,511.2 L392.6,511.2 L393.1,511.2 L393.6,511.2 L394.1,511.2 L394.6,511.2 L395.1,511.2 L395.6,511.2 L396.1,511.2 L396.6,511.2 L397.1,511.2 L397.6,511.2 L398.1,511.2 L398.6,511.2 L399.1,511.2 L399.6,511.2 L400.1,511.2 L400.6,511.2 L401.1,511.2 L401.6,511.2 L402.1,511.2 L402.6,511.2 L403.1,511.2 L403.6,511.2 L404.1,511.2 L404.6,511.2 L405.1,511.2 L405.6,511.2 L406.1,511.2 L406.6,511.2 L407.1,511.2 L407.6,511.2 L408.1,511.2 L408.6,511.2 L409.1,511.2 L409.6,511.2 L410.1,511.2 L410.6,511.2 L411.1,511.2 L411.6,511.2 L412.1,511.2 L412.6,511.2 L413.1,511.2 L413.6,511.2 L414.1,511.2 L414.6,511.2 L415.1,511.2 L415.6,511.2 L416.1,511.2 L416.6,511.2 L417.1,511.2 L417.6,511.2 L418.1,511.2 L418.6,511.2 L419.1,511.2 L419.6,511.2 L420.1,511.2 L420.6,511.2 L421.1,511.2 L421.6,511.2 L422.1,511.2 L422.6,511.2 L423.1,511.2 L423.6,511.2 L424.1,511.2 L424.6,511.2 L425.1,511.2 L425.6,511.2 L426.1,511.2 L426.6,511.2 L427.1,511.2 L427.6,511.2 L428.1,511.2 L428.6,511.2 L429.1,511.2 L429.6,511.2 L430.1,511.2 L430.6,511.2 L431.1,511.2 L431.6,511.2 L432.1,511.2 L432.6,511.2 L433.1,511.2 L433.6,511.2 L434.1,511.2 L434.6,511.2 L435.1,511.1 L435.6,511.1 L436.1,510.9 L436.6,510.6 L437.1,509.9 L437.6,508.8 L438.1,506.9 L438.6,504.0 L439.1,499.9 L439.6,494.5 L440.1,487.9 L440.6,480.7 L441.1,473.7 L441.6,467.9 L442.1,464.2 L442.6,463.4 L443.1,465.4 L443.6,470.0 L444.1,476.4 L444.6,483.6 L445.1,490.6 L445.6,496.8 L446.1,501.7 L446.6,505.3 L447.1,507.8 L447.6,509.3 L448.1,510.1 L448.6,510.4 L449.1,510.2 L449.6,509.4 L450.1,507.8 L450.6,505.0 L451.1,500.6 L451.6,494.0 L452.1,485.0 L452.6,473.8 L453.1,461.1 L453.6,448.0 L454.1,436.4 L454.6,428.0 L455.1,424.3 L455.6,425.8 L456.1,432.3 L456.6,442.5 L457.1,454.5 L457.6,466.3 L458.1,476.1 L458.6,482.3 L459.1,484.3 L459.6,481.8 L460.1,475.2 L460.6,465.3 L461.1,453.7 L461.6,442.3 L462.1,433.0 L462.6,427.6 L463.1,427.1 L463.6,431.7 L464.1,440.6 L464.6,452.3 L465.1,465.1 L465.6,477.2 L466.1,487.7 L466.6,495.9 L467.1,501.9 L467.6,505.9 L468.1,508.3 L468.6,509.7 L469.1,510.5 L469.6,510.9 L470.1,511.1 L470.6,511.1 L471.1,511.2 L471.6,511.2 L472.1,511.2 L472.6,511.2 L473.1,511.2 L473.6,511.2 L474.1,511.2 L474.6,511.2 L475.1,511.1 L475.6,511.0 L476.1,510.8 L476.6,510.4 L477.1,509.5 L477.6,507.8 L478.1,504.9 L478.6,500.3 L479.1,493.3 L479.6,483.7 L480.1,471.4 L480.6,457.1 L481.1,442.2 L481.6,428.5 L482.1,418.1 L482.6,412.7 L483.1,413.3 L483.6,419.8 L484.1,431.1 L484.6,445.2 L485.1,460.1 L485.6,474.0 L486.1,485.8 L486.6,494.9 L487.1,501.4 L487.6,505.6 L488.1,508.2 L488.6,509.7 L489.1,510.5 L489.6,510.9 L490.1,511.1 L490.6,511.1 L491.1,511.1 L491.6,511.0 L492.1,510.9 L492.6,510.4 L493.1,509.6 L493.6,508.1 L494.1,505.6 L494.6,501.6 L495.1,495.6 L495.6,487.5 L496.1,477.4 L496.6,465.8 L497.1,454.0 L497.6,443.5 L498.1,435.9 L498.6,432.5 L499.1,433.9 L499.6,439.9 L500.1,449.2 L500.6,460.3 L501.1,471.3 L501.6,480.7 L502.1,487.1 L502.6,489.8 L503.1,488.5 L503.6,483.1 L504.1,474.2 L504.6,462.7 L505.1,450.2 L505.6,438.4 L506.1,429.4 L506.6,424.7 L507.1,425.2 L507.6,430.8 L508.1,440.5 L508.6,452.5 L509.1,464.7 L509.6,475.4 L510.1,483.1 L510.6,486.7 L511.1,485.9 L511.6,480.6 L512.1,471.4 L512.6,459.4 L513.1,446.1 L513.6,433.7 L514.1,424.1 L514.6,419.1 L515.1,419.7 L515.6,425.8 L516.1,436.3 L516.6,449.5 L517.1,463.5 L517.6,476.5 L518.1,487.5 L518.6,496.0 L519.1,502.0 L519.6,506.0 L520.1,508.4 L520.6,509.8 L521.1,510.6 L521.6,510.9 L522.1,511.1 L522.6,511.2 L523.1,511.2 L523.6,511.2 L524.1,511.2 L524.6,511.2 L525.1,511.2 L525.6,511.2 L526.1,511.2 L526.6,511.2 L527.1,511.2 L527.6,511.2 L528.1,511.2 L528.6,511.2 L529.1,511.2 L529.6,511.2 L530.1,511.2 L530.6,511.2 L531.1,511.2 L531.6,511.2 L532.1,511.2 L532.6,511.2 L533.1,511.2 L533.6,511.2 L534.1,511.2 L534.6,511.2 L535.1,511.2 L535.6,511.2 L536.1,511.2 L536.6,511.2 L537.1,511.2 L537.6,511.2 L538.1,511.2 L538.6,511.2 L539.1,511.2 L539.6,511.2 L540.1,511.2 L540.6,511.2 L541.1,511.2 L541.6,511.2 L542.1,511.2 L542.6,511.2 L543.1,511.2 L543.6,511.2 L544.1,511.2 L544.6,511.2 L545.1,511.2 L545.6,511.2 L546.1,511.2 L546.6,511.2 L547.1,511.2 L547.6,511.2 L548.1,511.2 L548.6,511.2 L549.1,511.2 L549.6,511.2 L550.1,511.2 L550.6,511.2 L551.1,511.2 L551.6,511.2 L552.1,511.2 L552.6,511.2 L553.1,511.2 L553.6,511.2 L554.1,511.2 L554.6,511.2 L555.1,511.2 L555.6,511.2 L556.1,511.2 L556.6,511.2 L557.1,511.2 L557.6,511.2 L558.1,511.2 L558.6,511.2 L559.1,511.2 L559.6,511.2 L560.1,511.2 L560.6,511.2 L561.1,511.2 L561.6,511.2 L562.1,511.2 L562.6,511.2 L563.1,511.2 L563.6,511.2 L564.1,511.2 L564.6,511.2 L565.1,511.2 L565.6,511.2 L566.1,511.2 L566.6,511.2 L567.1,511.2 L567.6,511.2 L568.1,511.2 L568.6,511.2 L569.1,511.2 L569.6,511.2 L570.1,511.2 L570.6,511.2 L571.1,511.2 L571.6,511.2 L572.1,511.2 L572.6,511.1 L573.1,511.0 L573.6,510.8 L574.1,510.3 L574.6,509.3 L575.1,507.6 L575.6,504.6 L576.1,500.0 L576.6,493.4 L577.1,484.4 L577.6,473.4 L578.1,461.2 L578.6,448.9 L579.1,438.4 L579.6,431.2 L580.1,428.7 L580.6,431.2 L581.1,438.4 L581.6,448.9 L582.1,461.2 L582.6,473.4 L583.1,484.4 L583.6,493.4 L584.1,500.0 L584.6,504.6 L585.1,507.6 L585.6,509.3 L586.1,510.3 L586.6,510.8 L587.1,511.0 L587.6,511.1 L588.1,511.2 L588.6,511.2 L589.1,511.2 L589.6,511.2 L590.1,511.2 L590.6,511.2 L591.1,511.2 L591.6,511.2 L592.1,511.2 L592.6,511.2 L593.1,511.2 L593.6,511.2 L594.1,511.2 L594.6,511.2 L595.1,511.2 L595.6,511.2 L596.1,511.2 L596.6,511.2 L597.1,511.2 L597.6,511.2 L598.1,511.2 L598.6,511.2 L599.1,511.2 L599.6,511.2 L600.1,511.2 L600.6,511.2 L601.1,511.2 L601.6,511.2 L602.1,511.2 L602.6,511.1 L603.1,511.0 L603.6,510.8 L604.1,510.2 L604.6,509.0 L605.1,506.9 L605.6,503.1 L606.1,497.2 L606.6,488.8 L607.1,477.9 L607.6,465.3 L608.1,452.4 L608.6,441.4 L609.1,434.3 L609.6,432.5 L610.1,436.5 L610.6,445.5 L611.1,457.5 L611.6,470.5 L612.1,482.5 L612.6,492.5 L613.1,499.9 L613.6,504.8 L614.1,507.9 L614.6,509.6 L615.1,510.5 L615.6,510.9 L616.1,511.1 L616.6,511.2 L617.1,511.2 L617.6,511.2 L618.1,511.2 L618.6,511.2 L619.1,511.2 L619.6,511.2 L620.1,511.2 L620.6,511.2 L621.1,511.2 L621.6,511.2 L622.1,511.2 L622.6,511.2 L623.1,511.2 L623.6,511.2 L624.1,511.2 L624.6,511.2 L625.1,511.2 L625.6,511.2 L626.1,511.2 L626.6,511.2 L627.1,511.2 L627.6,511.2 L628.1,511.2 L628.6,511.2 L629.1,511.2 L629.6,511.2 L630.1,511.2 L630.6,511.2 L631.1,511.2 L631.6,511.2 L632.1,511.2 L632.6,511.2 L633.1,511.2 L633.6,511.2 L634.1,511.2 L634.6,511.2 L635.1,511.2 L635.6,511.2 L636.1,511.2 L636.6,511.2 L637.1,511.2 L637.6,511.2 L638.1,511.2 L638.6,511.2 L639.1,511.2 L639.6,511.2 L640.1,511.1 L640.6,510.8 L641.1,510.2 L641.6,508.8 L642.1,505.9 L642.6,500.6 L643.1,491.9 L643.6,479.2 L644.1,462.8 L644.6,444.5 L645.1,427.2 L645.6,414.8 L646.1,410.3 L646.6,414.8 L647.1,427.2 L647.6,444.5 L648.1,462.8 L648.6,479.2 L649.1,491.9 L649.6,500.6 L650.1,505.9 L650.6,508.8 L651.1,510.2 L651.6,510.8 L652.1,511.1 L652.6,511.2 L653.1,511.2 L653.6,511.2 L654.1,511.2 L654.6,511.2 L655.1,511.2 L655.6,511.2 L656.1,511.2 L656.6,511.2 L657.1,511.2 L657.6,511.2 L658.1,511.2 L658.6,511.2 L659.1,511.2 L659.6,511.2 L660.1,511.1 L660.6,510.9 L661.1,510.3 L661.6,509.1 L662.1,506.5 L662.6,501.9 L663.1,494.3 L663.6,483.1 L664.1,468.7 L664.6,452.7 L665.1,437.5 L665.6,426.7 L666.1,422.7 L666.6,426.7 L667.1,437.5 L667.6,452.6 L668.1,468.5 L668.6,482.5 L669.1,492.7 L669.6,498.5 L670.1,499.5 L670.6,495.8 L671.1,487.5 L671.6,475.1 L672.1,460.0 L672.6,444.5 L673.1,431.8 L673.6,424.9 L674.1,425.7 L674.6,433.9 L675.1,447.5 L675.6,463.2 L676.1,478.1 L676.6,490.1 L677.1,498.2 L677.6,502.2 L678.1,502.4 L678.6,498.8 L679.1,491.5 L679.6,480.9 L680.1,468.1 L680.6,455.0 L681.1,444.3 L681.6,438.5 L682.1,439.2 L682.6,446.1 L683.1,457.5 L683.6,470.8 L684.1,483.5 L684.6,493.9 L685.1,501.3 L685.6,506.0 L686.1,508.7 L686.6,510.1 L687.1,510.7 L687.6,510.9 L688.1,510.9 L688.6,510.8 L689.1,510.7 L689.6,510.5 L690.1,510.3 L690.6,510.0 L691.1,509.7 L691.6,509.3 L692.1,508.9 L692.6,508.4 L693.1,507.9 L693.6,507.4 L694.1,506.9 L694.6,506.4 L695.1,505.9 L695.6,505.5 L696.1,505.2 L696.6,504.9 L697.1,504.7 L697.6,504.6 L698.1,504.4 L698.6,504.3 L699.1,504.1 L699.6,503.8 L700.1,503.3 L700.6,502.7 L701.1,502.0 L701.6,501.1 L702.1,500.0 L702.6,498.9 L703.1,497.8 L703.6,496.7 L704.1,495.8 L704.6,495.2 L705.1,494.8 L705.6,494.7 L706.1,494.9 L706.6,495.4 L707.1,496.0 L707.6,496.8 L708.1,497.5 L708.6,498.1 L709.1,498.5 L709.6,498.5 L710.1,498.2 L710.6,497.5 L711.1,496.6 L711.6,495.4 L712.1,494.2 L712.6,493.1 L713.1,492.2 L713.6,491.8 L714.1,491.8 L714.6,492.4 L715.1,493.4 L715.6,494.9 L716.1,496.7 L716.6,498.7 L717.1,500.8 L717.6,502.7 L718.1,504.5 L718.6,506.1 L719.1,507.4 L719.6,508.5 L720.1,509.2 L720.6,509.5 L721.1,509.3 L721.6,508.2 L722.1,505.5 L722.6,500.5 L723.1,492.4 L723.6,480.7 L724.1,466.0 L724.6,450.0 L725.1,435.6 L725.6,426.0 L726.1,423.7 L726.6,429.1 L727.1,440.9 L727.6,456.2 L728.1,471.6 L728.6,484.5 L729.1,493.1 L729.6,496.7 L730.1,495.2 L730.6,488.7 L731.1,478.1 L731.6,464.6 L732.1,450.6 L732.6,439.2 L733.1,433.0 L733.6,433.7 L734.1,441.1 L734.6,453.4 L735.1,467.7 L735.6,481.4 L736.1,492.5 L736.6,500.5 L737.1,505.6 L737.6,508.6 L738.1,510.1 L738.6,510.7 L739.1,511.0 L739.6,511.1 L740.1,511.2 L740.6,511.2 L741.1,511.2 L741.6,511.2 L742.1,511.2 L742.6,511.2 L743.1,511.2 L743.6,511.2 L744.1,511.2 L744.6,511.2 L745.1,511.2 L745.6,511.2 L746.1,511.2 L746.6,511.2 L747.1,511.2 L747.6,511.2 L748.1,511.2 L748.6,511.2 L749.1,511.2 L749.6,511.2 L750.1,511.2 L750.6,511.2 L751.1,511.2 L751.6,511.2 L752.1,511.2 L752.6,511.2 L753.1,511.2 L753.6,511.2 L754.1,511.2 L754.6,511.2 L755.1,511.2 L755.6,511.2 L756.1,511.2 L756.6,511.2 L757.1,511.2 L757.6,511.2 L758.1,511.2 L758.6,511.2 L759.1,511.2 L759.6,511.2 L760.1,511.2 L760.6,511.2 L761.1,511.2 L761.6,511.2 L762.1,511.2 L762.6,511.2 L763.1,511.2 L763.6,511.2 L764.1,511.2 L764.6,511.2 L765.1,511.2 L765.6,511.2 L766.1,511.2 L766.6,511.2 L767.1,511.2 L767.6,511.2 L768.1,511.2 L768.6,511.2 L769.1,511.2 L769.6,511.2 L770.1,511.2 L770.6,511.2 L771.1,511.2 L771.6,511.2 L772.1,511.2 L772.6,511.2 L773.1,511.2 L773.6,511.2 L774.1,511.2 L774.6,511.2 L775.1,511.2 L775.6,511.2 L776.1,511.2 L776.6,511.2 L777.1,511.1 L777.6,511.0 L778.1,510.7 L778.6,510.1 L779.1,508.8 L779.6,506.2 L780.1,502.0 L780.6,495.7 L781.1,487.4 L781.6,477.8 L782.1,468.4 L782.6,461.1 L783.1,457.8 L783.6,459.2 L784.1,465.1 L784.6,473.9 L785.1,483.6 L785.6,492.6 L786.1,499.8 L786.6,504.8 L787.1,507.9 L787.6,509.7 L788.1,510.5 L788.6,510.9 L789.1,511.1 L789.6,511.2 L790.1,511.2 L790.6,511.2 L791.1,511.2 L791.6,511.2 L792.1,511.2 L792.6,511.2 L793.1,511.2 L793.6,511.2 L794.1,511.2 L794.6,511.2 L795.1,511.2 L795.6,511.2 L796.1,511.2 L796.6,511.2 L797.1,511.2 L797.6,511.2 L798.1,511.2 L798.6,511.2 L799.1,511.2 L799.6,511.2 L800.1,511.2 L800.6,511.2 L801.1,511.2 L801.6,511.2 L802.1,511.2 L802.6,511.2 L803.1,511.2 L803.6,511.2 L804.1,511.2 L804.6,511.2 L805.1,511.2 L805.6,511.2 L806.1,511.2 L806.6,511.2 L807.1,511.1 L807.6,511.0 L808.1,510.7 L808.6,510.0 L809.1,508.4 L809.6,505.5 L810.1,500.5 L810.6,492.7 L811.1,482.3 L811.6,469.8 L812.1,457.2 L812.6,446.9 L813.1,441.3 L813.6,442.0 L814.1,448.6 L814.6,459.6 L815.1,472.4 L815.6,484.6 L816.1,494.5 L816.6,501.7 L817.1,506.2 L817.6,508.8 L818.1,510.2 L818.6,510.8 L819.1,511.1 L819.6,511.2 L820.1,511.2 L820.6,511.2 L821.1,511.2 L821.6,511.2 L822.1,511.2 L822.6,511.2 L823.1,511.2 L823.6,511.2 L824.1,511.2 L824.6,511.2 L825.1,511.2 L825.6,511.2 L826.1,511.2 L826.6,511.2 L827.1,511.2 L827.6,511.2 L828.1,511.2 L828.6,511.1 L829.1,510.9 L829.6,510.4 L830.1,509.4 L830.6,507.1 L831.1,502.9 L831.6,495.9 L832.1,485.4 L832.6,471.5 L833.1,455.4 L833.6,439.7 L834.1,427.6 L834.6,422.1 L835.1,424.5 L835.6,434.2 L836.1,448.9 L836.6,465.2 L837.1,480.2 L837.6,492.1 L838.1,500.5 L838.6,505.7 L839.1,508.6 L839.6,510.1 L840.1,510.8 L840.6,511.1 L841.1,511.2 L841.6,511.2 L842.1,511.2 L842.6,511.2 L843.1,511.2 L843.6,511.2 L844.1,511.2 L844.6,511.2 L845.1,511.2 L845.6,511.2 L846.1,511.2 L846.6,511.2 L847.1,511.2 L847.6,511.2 L848.1,511.2 L848.6,511.2 L849.1,511.2 L849.6,511.2 L850.1,511.2 L850.6,511.2 L851.1,511.2 L851.6,511.2 L852.1,511.2 L852.6,511.2 L853.1,511.2 L853.6,511.2 L854.1,511.2 L854.6,511.2 L855.1,511.2 L855.6,511.2 L856.1,511.2 L856.6,511.2 L857.1,511.2 L857.6,511.2 L858.1,511.2 L858.6,511.2 L859.1,511.2 L859.6,511.2 L860.1,511.2 L860.6,511.2 L861.1,511.2 L861.6,511.2 L862.1,511.2 L862.6,511.2 L863.1,511.2 L863.6,511.2 L864.1,511.2 L864.6,511.2 L865.1,511.2 L865.6,511.2 L866.1,511.2 L866.6,511.1 L867.1,510.9 L867.6,510.4 L868.1,509.1 L868.6,506.6 L869.1,501.9 L869.6,494.1 L870.1,482.3 L870.6,466.7 L871.1,448.7 L871.6,431.1 L872.1,417.6 L872.6,411.4 L873.1,414.1 L873.6,425.0 L874.1,441.4 L874.6,459.7 L875.1,476.5 L875.6,489.9 L876.1,499.2 L876.6,505.1 L877.1,508.3 L877.6,510.0 L878.1,510.7 L878.6,511.0 L879.1,511.1 L879.6,511.2 L880.1,511.2 L880.6,511.2 L881.1,511.2 L881.6,511.2 L882.1,511.2 L882.6,511.2 L883.1,511.2 L883.6,511.2 L884.1,511.2 L884.6,511.2 L885.1,511.2 L885.6,511.2 L886.1,511.2 L886.6,511.2 L887.1,511.2 L887.6,511.2 L888.1,511.2 L888.6,511.2 L889.1,511.2 L889.6,511.2 L890.1,511.2 L890.6,511.2 L891.1,511.2 L891.6,511.2 L892.1,511.2 L892.6,511.2 L893.1,511.2 L893.6,511.2 L894.1,511.2 L894.6,511.2 L895.1,511.2 L895.6,511.2 L896.1,511.2 L896.6,511.2 L897.1,511.2 L897.6,511.2 L898.1,511.2 L898.6,511.2 L899.1,511.2 L899.6,511.2 L900.1,511.2 L900.6,511.2 L901.1,511.2 L901.6,511.2 L902.1,511.2 L902.6,511.2 L903.1,511.2 L903.6,511.2 L904.1,511.2 L904.6,511.2 L905.1,511.2 L905.6,511.2 L906.1,511.2 L906.6,511.2 L907.1,511.2 L907.6,511.2 L908.1,511.2 L908.6,511.2 L909.1,511.2 L909.6,511.2 L910.1,511.2" fill="none" stroke="#e0454a" stroke-width="1.5" stroke-linejoin="round"/>
<path d="M320.6,511.2 L321.1,511.2 L321.6,511.2 L322.1,511.2 L322.6,511.2 L323.1,511.2 L323.6,511.2 L324.1,511.2 L324.6,511.2 L325.1,511.2 L325.6,511.2 L326.1,511.1 L326.6,511.0 L327.1,510.9 L327.6,510.5 L328.1,510.0 L328.6,509.0 L329.1,507.5 L329.6,505.3 L330.1,502.1 L330.6,497.9 L331.1,492.5 L331.6,486.1 L332.1,479.0 L332.6,471.7 L333.1,464.8 L333.6,459.2 L334.1,455.3 L334.6,453.7 L335.1,454.3 L335.6,456.8 L336.1,460.6 L336.6,464.7 L337.1,468.3 L337.6,470.6 L338.1,470.9 L338.6,469.1 L339.1,465.6 L339.6,460.9 L340.1,456.0 L340.6,451.8 L341.1,449.2 L341.6,449.0 L342.1,451.2 L342.6,455.8 L343.1,462.3 L343.6,469.8 L344.1,477.8 L344.6,485.4 L345.1,492.1 L345.6,497.8 L346.1,502.1 L346.6,505.4 L347.1,507.6 L347.6,509.1 L348.1,510.0 L348.6,510.6 L349.1,510.9 L349.6,511.0 L350.1,511.1 L350.6,511.2 L351.1,511.2 L351.6,511.2 L352.1,511.2 L352.6,511.2 L353.1,511.2 L353.6,511.2 L354.1,511.2 L354.6,511.2 L355.1,511.2 L355.6,511.2 L356.1,511.2 L356.6,511.2 L357.1,511.2 L357.6,511.2 L358.1,511.2 L358.6,511.2 L359.1,511.2 L359.6,511.2 L360.1,511.2 L360.6,511.2 L361.1,511.2 L361.6,511.2 L362.1,511.2 L362.6,511.2 L363.1,511.2 L363.6,511.2 L364.1,511.1 L364.6,511.1 L365.1,510.9 L365.6,510.5 L366.1,509.7 L366.6,508.4 L367.1,506.1 L367.6,502.5 L368.1,497.3 L368.6,490.3 L369.1,481.8 L369.6,472.2 L370.1,462.7 L370.6,454.5 L371.1,448.9 L371.6,446.9 L372.1,448.9 L372.6,454.5 L373.1,462.7 L373.6,472.2 L374.1,481.8 L374.6,490.3 L375.1,497.3 L375.6,502.5 L376.1,506.1 L376.6,508.4 L377.1,509.7 L377.6,510.5 L378.1,510.9 L378.6,511.1 L379.1,511.1 L379.6,511.2 L380.1,511.2 L380.6,511.2 L381.1,511.2 L381.6,511.2 L382.1,511.2 L382.6,511.2 L383.1,511.2 L383.6,511.2 L384.1,511.2 L384.6,511.1 L385.1,510.9 L385.6,510.6 L386.1,510.0 L386.6,508.8 L387.1,506.9 L387.6,503.8 L388.1,499.2 L388.6,492.9 L389.1,485.1 L389.6,476.2 L390.1,467.1 L390.6,459.0 L391.1,453.1 L391.6,450.4 L392.1,451.3 L392.6,455.5 L393.1,461.9 L393.6,469.2 L394.1,475.5 L394.6,479.5 L395.1,480.2 L395.6,477.1 L396.1,470.5 L396.6,461.4 L397.1,451.3 L397.6,442.3 L398.1,436.0 L398.6,433.8 L399.1,436.3 L399.6,443.0 L400.1,452.9 L400.6,464.4 L401.1,475.9 L401.6,486.1 L402.1,494.5 L402.6,500.8 L403.1,505.1 L403.6,507.8 L404.1,509.4 L404.6,510.3 L405.1,510.8 L405.6,511.0 L406.1,511.1 L406.6,511.2 L407.1,511.2 L407.6,511.2 L408.1,511.2 L408.6,511.2 L409.1,511.2 L409.6,511.2 L410.1,511.1 L410.6,511.0 L411.1,510.8 L411.6,510.3 L412.1,509.4 L412.6,507.8 L413.1,505.2 L413.6,501.2 L414.1,495.6 L414.6,488.3 L415.1,479.7 L415.6,470.5 L416.1,461.8 L416.6,454.9 L417.1,450.9 L417.6,450.5 L418.1,453.8 L418.6,460.2 L419.1,468.7 L419.6,477.9 L420.1,486.7 L420.6,494.2 L421.1,500.2 L421.6,504.5 L422.1,507.3 L422.6,509.1 L423.1,510.1 L423.6,510.7 L424.1,511.0 L424.6,511.1 L425.1,511.2 L425.6,511.2 L426.1,511.2 L426.6,511.2 L427.1,511.2 L427.6,511.2 L428.1,511.2 L428.6,511.2 L429.1,511.2 L429.6,511.2 L430.1,511.2 L430.6,511.2 L431.1,511.2 L431.6,511.2 L432.1,511.2 L432.6,511.2 L433.1,511.2 L433.6,511.2 L434.1,511.2 L434.6,511.2 L435.1,511.2 L435.6,511.2 L436.1,511.2 L436.6,511.2 L437.1,511.2 L437.6,511.2 L438.1,511.2 L438.6,511.2 L439.1,511.2 L439.6,511.2 L440.1,511.2 L440.6,511.2 L441.1,511.2 L441.6,511.2 L442.1,511.2 L442.6,511.2 L443.1,511.2 L443.6,511.2 L444.1,511.2 L444.6,511.2 L445.1,511.2 L445.6,511.2 L446.1,511.2 L446.6,511.2 L447.1,511.2 L447.6,511.2 L448.1,511.2 L448.6,511.2 L449.1,511.2 L449.6,511.2 L450.1,511.2 L450.6,511.2 L451.1,511.2 L451.6,511.2 L452.1,511.2 L452.6,511.2 L453.1,511.2 L453.6,511.2 L454.1,511.2 L454.6,511.2 L455.1,511.2 L455.6,511.2 L456.1,511.2 L456.6,511.2 L457.1,511.2 L457.6,511.2 L458.1,511.2 L458.6,511.2 L459.1,511.2 L459.6,511.2 L460.1,511.2 L460.6,511.2 L461.1,511.2 L461.6,511.2 L462.1,511.2 L462.6,511.1 L463.1,511.0 L463.6,510.7 L464.1,510.1 L464.6,508.9 L465.1,506.8 L465.6,503.3 L466.1,498.0 L466.6,490.3 L467.1,480.3 L467.6,468.1 L468.1,454.8 L468.6,441.9 L469.1,431.2 L469.6,424.5 L470.1,422.8 L470.6,426.6 L471.1,435.1 L471.6,446.9 L472.1,460.2 L472.6,473.2 L473.1,484.6 L473.6,493.7 L474.1,500.4 L474.6,504.9 L475.1,507.8 L475.6,509.4 L476.1,510.4 L476.6,510.8 L477.1,511.0 L477.6,511.1 L478.1,511.2 L478.6,511.2 L479.1,511.2 L479.6,511.2 L480.1,511.2 L480.6,511.2 L481.1,511.2 L481.6,511.2 L482.1,511.2 L482.6,511.2 L483.1,511.1 L483.6,510.9 L484.1,510.6 L484.6,509.9 L485.1,508.5 L485.6,506.2 L486.1,502.3 L486.6,496.5 L487.1,488.3 L487.6,477.7 L488.1,465.1 L488.6,451.6 L489.1,438.9 L489.6,428.8 L490.1,422.9 L490.6,422.3 L491.1,427.2 L491.6,436.6 L492.1,449.0 L492.6,462.4 L493.1,475.3 L493.6,486.4 L494.1,495.1 L494.6,501.4 L495.1,505.6 L495.6,508.2 L496.1,509.7 L496.6,510.5 L497.1,510.9 L497.6,511.1 L498.1,511.1 L498.6,511.2 L499.1,511.2 L499.6,511.2 L500.1,511.2 L500.6,511.2 L501.1,511.2 L501.6,511.2 L502.1,511.2 L502.6,511.2 L503.1,511.2 L503.6,511.2 L504.1,511.2 L504.6,511.2 L505.1,511.2 L505.6,511.2 L506.1,511.2 L506.6,511.2 L507.1,511.2 L507.6,511.2 L508.1,511.2 L508.6,511.2 L509.1,511.2 L509.6,511.2 L510.1,511.2 L510.6,511.2 L511.1,511.2 L511.6,511.2 L512.1,511.2 L512.6,511.2 L513.1,511.2 L513.6,511.2 L514.1,511.2 L514.6,511.2 L515.1,511.2 L515.6,511.2 L516.1,511.2 L516.6,511.2 L517.1,511.2 L517.6,511.2 L518.1,511.2 L518.6,511.2 L519.1,511.2 L519.6,511.2 L520.1,511.2 L520.6,511.2 L521.1,511.2 L521.6,511.2 L522.1,511.1 L522.6,510.9 L523.1,510.6 L523.6,509.9 L524.1,508.7 L524.6,506.6 L525.1,503.1 L525.6,497.9 L526.1,490.8 L526.6,481.7 L527.1,471.1 L527.6,460.0 L528.1,449.8 L528.6,442.0 L529.1,438.0 L529.6,438.3 L530.1,442.9 L530.6,450.7 L531.1,460.2 L531.6,469.5 L532.1,476.9 L532.6,481.1 L533.1,481.3 L533.6,477.5 L534.1,470.3 L534.6,460.9 L535.1,450.9 L535.6,442.4 L536.1,436.9 L536.6,435.6 L537.1,438.9 L537.6,446.2 L538.1,456.3 L538.6,467.6 L539.1,478.7 L539.6,488.5 L540.1,496.2 L540.6,502.0 L541.1,505.8 L541.6,508.3 L542.1,509.7 L542.6,510.5 L543.1,510.8 L543.6,511.0 L544.1,511.0 L544.6,510.7 L545.1,510.2 L545.6,509.2 L546.1,507.5 L546.6,504.5 L547.1,500.0 L547.6,493.6 L548.1,485.1 L548.6,474.8 L549.1,463.6 L549.6,452.7 L550.1,443.6 L550.6,437.9 L551.1,436.5 L551.6,439.7 L552.1,446.9 L552.6,456.9 L553.1,468.1 L553.6,479.1 L554.1,488.7 L554.6,496.4 L555.1,502.1 L555.6,505.9 L556.1,508.3 L556.6,509.7 L557.1,510.5 L557.6,510.9 L558.1,511.1 L558.6,511.1 L559.1,511.2 L559.6,511.2 L560.1,511.2 L560.6,511.2 L561.1,511.2 L561.6,511.2 L562.1,511.2 L562.6,511.2 L563.1,511.2 L563.6,511.2 L564.1,511.2 L564.6,511.1 L565.1,511.0 L565.6,510.7 L566.1,510.2 L566.6,509.1 L567.1,507.3 L567.6,504.4 L568.1,499.9 L568.6,493.6 L569.1,485.4 L569.6,475.7 L570.1,465.3 L570.6,455.5 L571.1,447.7 L571.6,443.2 L572.1,442.7 L572.6,446.5 L573.1,453.7 L573.6,463.3 L574.1,473.6 L574.6,483.5 L575.1,492.1 L575.6,498.8 L576.1,503.6 L576.6,506.9 L577.1,508.9 L577.6,510.0 L578.1,510.6 L578.6,510.9 L579.1,511.1 L579.6,511.2 L580.1,511.2 L580.6,511.2 L581.1,511.2 L581.6,511.2 L582.1,511.2 L582.6,511.2 L583.1,511.2 L583.6,511.2 L584.1,511.2 L584.6,511.2 L585.1,511.2 L585.6,511.2 L586.1,511.2 L586.6,511.2 L587.1,511.2 L587.6,511.2 L588.1,511.2 L588.6,511.2 L589.1,511.2 L589.6,511.2 L590.1,511.2 L590.6,511.2 L591.1,511.2 L591.6,511.2 L592.1,511.2 L592.6,511.2 L593.1,511.2 L593.6,511.2 L594.1,511.2 L594.6,511.2 L595.1,511.2 L595.6,511.2 L596.1,511.2 L596.6,511.2 L597.1,511.2 L597.6,511.2 L598.1,511.2 L598.6,511.2 L599.1,511.2 L599.6,511.2 L600.1,511.2 L600.6,511.2 L601.1,511.2 L601.6,511.2 L602.1,511.2 L602.6,511.2 L603.1,511.2 L603.6,511.2 L604.1,511.2 L604.6,511.2 L605.1,511.2 L605.6,511.2 L606.1,511.2 L606.6,511.2 L607.1,511.2 L607.6,511.2 L608.1,511.2 L608.6,511.2 L609.1,511.2 L609.6,511.2 L610.1,511.2 L610.6,511.2 L611.1,511.2 L611.6,511.2 L612.1,511.2 L612.6,511.2 L613.1,511.2 L613.6,511.2 L614.1,511.2 L614.6,511.2 L615.1,511.2 L615.6,511.2 L616.1,511.2 L616.6,511.2 L617.1,511.2 L617.6,511.2 L618.1,511.2 L618.6,511.2 L619.1,511.2 L619.6,511.2 L620.1,511.2 L620.6,511.2 L621.1,511.2 L621.6,511.2 L622.1,511.2 L622.6,511.2 L623.1,511.2 L623.6,511.2 L624.1,511.2 L624.6,511.2 L625.1,511.2 L625.6,511.2 L626.1,511.2 L626.6,511.2 L627.1,511.2 L627.6,511.2 L628.1,511.2 L628.6,511.2 L629.1,511.2 L629.6,511.2 L630.1,511.2 L630.6,511.2 L631.1,511.2 L631.6,511.2 L632.1,511.2 L632.6,511.2 L633.1,511.2 L633.6,511.2 L634.1,511.2 L634.6,511.2 L635.1,511.2 L635.6,511.2 L636.1,511.2 L636.6,511.2 L637.1,511.2 L637.6,511.2 L638.1,511.2 L638.6,511.2 L639.1,511.2 L639.6,511.2 L640.1,511.2 L640.6,511.2 L641.1,511.2 L641.6,511.2 L642.1,511.2 L642.6,511.2 L643.1,511.2 L643.6,511.2 L644.1,511.2 L644.6,511.2 L645.1,511.2 L645.6,511.1 L646.1,511.0 L646.6,510.7 L647.1,510.1 L647.6,509.1 L648.1,507.2 L648.6,504.2 L649.1,499.6 L649.6,493.2 L650.1,484.8 L650.6,474.9 L651.1,464.2 L651.6,454.2 L652.1,446.2 L652.6,441.6 L653.1,441.2 L653.6,445.0 L654.1,452.4 L654.6,462.1 L655.1,472.8 L655.6,482.9 L656.1,491.6 L656.6,498.5 L657.1,503.4 L657.6,506.7 L658.1,508.8 L658.6,510.0 L659.1,510.6 L659.6,510.9 L660.1,511.1 L660.6,511.1 L661.1,511.0 L661.6,510.8 L662.1,510.6 L662.6,510.3 L663.1,510.0 L663.6,509.7 L664.1,509.4 L664.6,509.0 L665.1,508.6 L665.6,508.2 L666.1,507.7 L666.6,507.3 L667.1,506.8 L667.6,506.3 L668.1,505.7 L668.6,505.2 L669.1,504.6 L669.6,504.0 L670.1,503.4 L670.6,502.8 L671.1,502.2 L671.6,501.5 L672.1,500.8 L672.6,500.1 L673.1,499.4 L673.6,498.7 L674.1,497.9 L674.6,497.2 L675.1,496.4 L675.6,495.6 L676.1,494.8 L676.6,494.0 L677.1,493.2 L677.6,492.3 L678.1,491.4 L678.6,490.6 L679.1,489.7 L679.6,488.7 L680.1,487.8 L680.6,486.9 L681.1,485.9 L681.6,484.8 L682.1,483.6 L682.6,482.0 L683.1,480.4 L683.6,479.6 L684.1,477.4 L684.6,473.3 L685.1,466.6 L685.6,457.2 L686.1,445.1 L686.6,431.1 L687.1,416.8 L687.6,404.2 L688.1,395.4 L688.6,392.0 L689.1,394.8 L689.6,403.6 L690.1,416.8 L690.6,432.6 L691.1,448.9 L691.6,463.7 L692.1,476.2 L692.6,485.8 L693.1,492.8 L693.6,497.6 L694.1,500.8 L694.6,502.8 L695.1,504.2 L695.6,505.3 L696.1,506.1 L696.6,506.8 L697.1,507.4 L697.6,508.0 L698.1,508.5 L698.6,509.0 L699.1,509.5 L699.6,509.9 L700.1,510.3 L700.6,510.6 L701.1,510.9 L701.6,511.1 L702.1,511.2 L702.6,511.2 L703.1,511.2 L703.6,511.2 L704.1,511.2 L704.6,511.2 L705.1,511.2 L705.6,511.2 L706.1,511.2 L706.6,511.2 L707.1,511.2 L707.6,511.2 L708.1,511.2 L708.6,511.2 L709.1,511.2 L709.6,511.2 L710.1,511.2 L710.6,511.2 L711.1,511.1 L711.6,511.0 L712.1,510.7 L712.6,510.2 L713.1,509.2 L713.6,507.4 L714.1,504.5 L714.6,499.9 L715.1,493.4 L715.6,484.8 L716.1,474.4 L716.6,463.1 L717.1,452.0 L717.6,442.9 L718.1,437.1 L718.6,435.7 L719.1,438.9 L719.6,446.2 L720.1,456.3 L720.6,467.6 L721.1,478.7 L721.6,488.5 L722.1,496.2 L722.6,502.0 L723.1,505.8 L723.6,508.3 L724.1,509.7 L724.6,510.5 L725.1,510.9 L725.6,511.1 L726.1,511.1 L726.6,511.2 L727.1,511.2 L727.6,511.2 L728.1,511.2 L728.6,511.2 L729.1,511.2 L729.6,511.2 L730.1,511.2 L730.6,511.2 L731.1,511.2 L731.6,511.2 L732.1,511.2 L732.6,511.2 L733.1,511.1 L733.6,510.9 L734.1,510.6 L734.6,509.9 L735.1,508.7 L735.6,506.5 L736.1,503.0 L736.6,497.7 L737.1,490.4 L737.6,481.1 L738.1,470.4 L738.6,459.1 L739.1,448.7 L739.6,440.8 L740.1,436.8 L740.6,437.2 L741.1,442.2 L741.6,450.6 L742.1,461.3 L742.6,472.6 L743.1,483.1 L743.6,492.0 L744.1,498.9 L744.6,503.8 L745.1,507.0 L745.6,509.0 L746.1,510.1 L746.6,510.7 L747.1,511.0 L747.6,511.1 L748.1,511.2 L748.6,511.2 L749.1,511.2 L749.6,511.2 L750.1,511.2 L750.6,511.2 L751.1,511.2 L751.6,511.2 L752.1,511.2 L752.6,511.2 L753.1,511.2 L753.6,511.2 L754.1,511.2 L754.6,511.2 L755.1,511.2 L755.6,511.2 L756.1,511.2 L756.6,511.2 L757.1,511.2 L757.6,511.2 L758.1,511.2 L758.6,511.2 L759.1,511.2 L759.6,511.2 L760.1,511.2 L760.6,511.2 L761.1,511.2 L761.6,511.2 L762.1,511.2 L762.6,511.2 L763.1,511.2 L763.6,511.2 L764.1,511.2 L764.6,511.2 L765.1,511.2 L765.6,511.2 L766.1,511.2 L766.6,511.2 L767.1,511.2 L767.6,511.2 L768.1,511.2 L768.6,511.2 L769.1,511.2 L769.6,511.2 L770.1,511.2 L770.6,511.2 L771.1,511.2 L771.6,511.2 L772.1,511.2 L772.6,511.2 L773.1,511.2 L773.6,511.2 L774.1,511.2 L774.6,511.2 L775.1,511.2 L775.6,511.2 L776.1,511.2 L776.6,511.2 L777.1,511.2 L777.6,511.2 L778.1,511.2 L778.6,511.2 L779.1,511.2 L779.6,511.2 L780.1,511.2 L780.6,511.2 L781.1,511.2 L781.6,511.2 L782.1,511.2 L782.6,511.2 L783.1,511.2 L783.6,511.2 L784.1,511.2 L784.6,511.2 L785.1,511.2 L785.6,511.2 L786.1,511.2 L786.6,511.2 L787.1,511.2 L787.6,511.2 L788.1,511.2 L788.6,511.2 L789.1,511.2 L789.6,511.2 L790.1,511.2 L790.6,511.2 L791.1,511.2 L791.6,511.2 L792.1,511.2 L792.6,511.2 L793.1,511.2 L793.6,511.2 L794.1,511.2 L794.6,511.2 L795.1,511.2 L795.6,511.2 L796.1,511.2 L796.6,511.2 L797.1,511.2 L797.6,511.2 L798.1,511.2 L798.6,511.2 L799.1,511.2 L799.6,511.2 L800.1,511.2 L800.6,511.2 L801.1,511.2 L801.6,511.2 L802.1,511.2 L802.6,511.2 L803.1,511.2 L803.6,511.2 L804.1,511.2 L804.6,511.2 L805.1,511.2 L805.6,511.2 L806.1,511.2 L806.6,511.2 L807.1,511.2 L807.6,511.2 L808.1,511.2 L808.6,511.2 L809.1,511.2 L809.6,511.2 L810.1,511.2 L810.6,511.2 L811.1,511.2 L811.6,511.2 L812.1,511.2 L812.6,511.2 L813.1,511.2 L813.6,511.2 L814.1,511.2 L814.6,511.2 L815.1,511.2 L815.6,511.2 L816.1,511.2 L816.6,511.2 L817.1,511.2 L817.6,511.2 L818.1,511.2 L818.6,511.2 L819.1,511.2 L819.6,511.1 L820.1,511.0 L820.6,510.7 L821.1,510.2 L821.6,509.2 L822.1,507.3 L822.6,504.3 L823.1,499.5 L823.6,492.8 L824.1,483.9 L824.6,473.2 L825.1,461.5 L825.6,450.1 L826.1,440.7 L826.6,434.7 L827.1,433.3 L827.6,436.6 L828.1,444.1 L828.6,454.6 L829.1,466.3 L829.6,477.7 L830.1,487.7 L830.6,495.8 L831.1,501.7 L831.6,505.7 L832.1,508.2 L832.6,509.7 L833.1,510.5 L833.6,510.9 L834.1,511.1 L834.6,511.1 L835.1,511.2 L835.6,511.2 L836.1,511.2 L836.6,511.2 L837.1,511.2 L837.6,511.2 L838.1,511.2 L838.6,511.2 L839.1,511.2 L839.6,511.2 L840.1,511.2 L840.6,511.2 L841.1,511.2 L841.6,511.2 L842.1,511.2 L842.6,511.2 L843.1,511.2 L843.6,511.2 L844.1,511.2 L844.6,511.2 L845.1,511.2 L845.6,511.2 L846.1,511.2 L846.6,511.2 L847.1,511.2 L847.6,511.2 L848.1,511.2 L848.6,511.2 L849.1,511.2 L849.6,511.2 L850.1,511.2 L850.6,511.2 L851.1,511.2 L851.6,511.2 L852.1,511.2 L852.6,511.2 L853.1,511.2 L853.6,511.2 L854.1,511.2 L854.6,511.2 L855.1,511.2 L855.6,511.2 L856.1,511.2 L856.6,511.2 L857.1,511.2 L857.6,511.1 L858.1,511.0 L858.6,510.7 L859.1,510.2 L859.6,509.2 L860.1,507.4 L860.6,504.5 L861.1,500.1 L861.6,493.9 L862.1,485.9 L862.6,476.4 L863.1,466.2 L863.6,456.6 L864.1,448.9 L864.6,444.5 L865.1,444.0 L865.6,447.7 L866.1,454.8 L866.6,464.2 L867.1,474.3 L867.6,484.1 L868.1,492.4 L868.6,499.0 L869.1,503.8 L869.6,506.9 L870.1,508.9 L870.6,510.0 L871.1,510.6 L871.6,511.0 L872.1,511.1 L872.6,511.2 L873.1,511.2 L873.6,511.2 L874.1,511.2 L874.6,511.2 L875.1,511.2 L875.6,511.2 L876.1,511.2 L876.6,511.2 L877.1,511.2 L877.6,511.2 L878.1,511.2 L878.6,511.2 L879.1,511.2 L879.6,511.2 L880.1,511.2 L880.6,511.2 L881.1,511.2 L881.6,511.2 L882.1,511.2 L882.6,511.2 L883.1,511.2 L883.6,511.2 L884.1,511.2 L884.6,511.2 L885.1,511.2 L885.6,511.2 L886.1,511.2 L886.6,511.2 L887.1,511.2 L887.6,511.1 L888.1,510.9 L888.6,510.6 L889.1,510.0 L889.6,508.8 L890.1,506.9 L890.6,503.9 L891.1,499.5 L891.6,493.6 L892.1,486.3 L892.6,478.3 L893.1,470.2 L893.6,463.3 L894.1,458.6 L894.6,456.9 L895.1,458.6 L895.6,463.3 L896.1,470.2 L896.6,478.3 L897.1,486.3 L897.6,493.6 L898.1,499.5 L898.6,503.9 L899.1,506.9 L899.6,508.8 L900.1,510.0 L900.6,510.6 L901.1,510.9 L901.6,511.1 L902.1,511.2 L902.6,511.2 L903.1,511.2 L903.6,511.2 L904.1,511.2 L904.6,511.2 L905.1,511.2 L905.6,511.2 L906.1,511.2 L906.6,511.2 L907.1,511.2 L907.6,511.2 L908.1,511.2 L908.6,511.2 L909.1,511.2 L909.6,511.2 L910.1,511.2" fill="none" stroke="#3f65c0" stroke-width="1.5" stroke-linejoin="round"/>
<path d="M320.6,503.4 L321.1,498.3 L321.6,491.0 L322.1,481.2 L322.6,469.1 L323.1,455.1 L323.6,440.4 L324.1,426.6 L324.6,415.4 L325.1,408.4 L325.6,406.7 L326.1,410.6 L326.6,419.4 L327.1,431.9 L327.6,446.3 L328.1,460.9 L328.6,474.2 L329.1,485.5 L329.6,494.2 L330.1,500.6 L330.6,504.9 L331.1,507.7 L331.6,509.3 L332.1,510.3 L332.6,510.8 L333.1,511.0 L333.6,511.1 L334.1,511.2 L334.6,511.2 L335.1,511.2 L335.6,511.2 L336.1,511.2 L336.6,511.2 L337.1,511.2 L337.6,511.2 L338.1,511.2 L338.6,511.2 L339.1,511.2 L339.6,511.2 L340.1,511.2 L340.6,511.2 L341.1,511.2 L341.6,511.2 L342.1,511.2 L342.6,511.2 L343.1,511.2 L343.6,511.2 L344.1,511.2 L344.6,511.2 L345.1,511.2 L345.6,511.2 L346.1,511.2 L346.6,511.2 L347.1,511.2 L347.6,511.1 L348.1,510.9 L348.6,510.6 L349.1,510.0 L349.6,508.8 L350.1,506.7 L350.6,503.2 L351.1,497.6 L351.6,489.5 L352.1,478.2 L352.6,463.8 L353.1,446.7 L353.6,428.0 L354.1,409.6 L354.6,393.6 L355.1,382.3 L355.6,377.3 L356.1,379.5 L356.6,388.4 L357.1,402.8 L357.6,420.5 L358.1,439.3 L358.6,457.2 L359.1,472.8 L359.6,485.3 L360.1,494.7 L360.6,501.2 L361.1,505.5 L361.6,508.1 L362.1,509.6 L362.6,510.4 L363.1,510.8 L363.6,511.0 L364.1,511.1 L364.6,511.2 L365.1,511.2 L365.6,511.2 L366.1,511.2 L366.6,511.2 L367.1,511.2 L367.6,511.2 L368.1,511.2 L368.6,511.2 L369.1,511.2 L369.6,511.2 L370.1,511.2 L370.6,511.2 L371.1,511.2 L371.6,511.2 L372.1,511.2 L372.6,511.2 L373.1,511.2 L373.6,511.2 L374.1,511.2 L374.6,511.2 L375.1,511.2 L375.6,511.1 L376.1,511.0 L376.6,510.8 L377.1,510.5 L377.6,509.8 L378.1,508.7 L378.6,507.0 L379.1,504.3 L379.6,500.7 L380.1,495.9 L380.6,490.2 L381.1,483.8 L381.6,477.3 L382.1,471.6 L382.6,467.3 L383.1,465.1 L383.6,465.3 L384.1,468.0 L384.6,472.6 L385.1,478.6 L385.6,485.1 L386.1,491.4 L386.6,496.9 L387.1,501.5 L387.6,504.9 L388.1,507.4 L388.6,509.0 L389.1,510.0 L389.6,510.6 L390.1,510.9 L390.6,511.1 L391.1,511.1 L391.6,511.2 L392.1,511.2 L392.6,511.2 L393.1,511.2 L393.6,511.2 L394.1,511.2 L394.6,511.2 L395.1,511.2 L395.6,511.2 L396.1,511.2 L396.6,511.2 L397.1,511.2 L397.6,511.2 L398.1,511.2 L398.6,511.2 L399.1,511.2 L399.6,511.2 L400.1,511.2 L400.6,511.2 L401.1,511.2 L401.6,511.2 L402.1,511.2 L402.6,511.2 L403.1,511.2 L403.6,511.2 L404.1,511.2 L404.6,511.2 L405.1,511.2 L405.6,511.2 L406.1,511.2 L406.6,511.2 L407.1,511.2 L407.6,511.2 L408.1,511.2 L408.6,511.2 L409.1,511.2 L409.6,511.2 L410.1,511.2 L410.6,511.2 L411.1,511.2 L411.6,511.2 L412.1,511.2 L412.6,511.2 L413.1,511.2 L413.6,511.2 L414.1,511.2 L414.6,511.2 L415.1,511.2 L415.6,511.2 L416.1,511.1 L416.6,511.1 L417.1,510.9 L417.6,510.6 L418.1,510.0 L418.6,508.8 L419.1,506.9 L419.6,503.9 L420.1,499.4 L420.6,493.1 L421.1,484.9 L421.6,475.0 L422.1,464.0 L422.6,452.9 L423.1,443.0 L423.6,435.6 L424.1,431.8 L424.6,432.2 L425.1,436.7 L425.6,444.5 L426.1,454.4 L426.6,464.9 L427.1,474.6 L427.6,482.1 L428.1,486.7 L428.6,487.9 L429.1,485.4 L429.6,479.5 L430.1,470.7 L430.6,460.1 L431.1,448.8 L431.6,438.6 L432.1,431.0 L432.6,427.0 L433.1,427.5 L433.6,432.3 L434.1,440.8 L434.6,451.7 L435.1,463.5 L435.6,475.0 L436.1,485.2 L436.6,493.5 L437.1,499.8 L437.6,504.2 L438.1,507.2 L438.6,509.0 L439.1,510.0 L439.6,510.6 L440.1,510.9 L440.6,511.1 L441.1,511.2 L441.6,511.2 L442.1,511.2 L442.6,511.2 L443.1,511.2 L443.6,511.2 L444.1,511.2 L444.6,511.2 L445.1,511.2 L445.6,511.2 L446.1,511.2 L446.6,511.2 L447.1,511.2 L447.6,511.2 L448.1,511.2 L448.6,511.2 L449.1,511.2 L449.6,511.2 L450.1,511.2 L450.6,511.2 L451.1,511.2 L451.6,511.2 L452.1,511.1 L452.6,511.1 L453.1,510.9 L453.6,510.7 L454.1,510.4 L454.6,510.0 L455.1,509.3 L455.6,508.5 L456.1,507.6 L456.6,506.6 L457.1,505.6 L457.6,504.8 L458.1,504.3 L458.6,504.2 L459.1,504.5 L459.6,505.1 L460.1,506.0 L460.6,507.0 L461.1,508.0 L461.6,508.9 L462.1,509.6 L462.6,510.2 L463.1,510.6 L463.6,510.8 L464.1,511.0 L464.6,511.1 L465.1,511.2 L465.6,511.2 L466.1,511.2 L466.6,511.2 L467.1,511.2 L467.6,511.2 L468.1,511.2 L468.6,511.2 L469.1,511.2 L469.6,511.2 L470.1,511.2 L470.6,511.2 L471.1,511.2 L471.6,511.2 L472.1,511.2 L472.6,511.2 L473.1,511.2 L473.6,511.2 L474.1,511.2 L474.6,511.2 L475.1,511.2 L475.6,511.2 L476.1,511.2 L476.6,511.2 L477.1,511.2 L477.6,511.2 L478.1,511.2 L478.6,511.2 L479.1,511.2 L479.6,511.2 L480.1,511.2 L480.6,511.2 L481.1,511.2 L481.6,511.2 L482.1,511.2 L482.6,511.2 L483.1,511.2 L483.6,511.2 L484.1,511.2 L484.6,511.2 L485.1,511.2 L485.6,511.2 L486.1,511.2 L486.6,511.2 L487.1,511.2 L487.6,511.2 L488.1,511.2 L488.6,511.2 L489.1,511.2 L489.6,511.2 L490.1,511.2 L490.6,511.2 L491.1,511.2 L491.6,511.2 L492.1,511.2 L492.6,511.2 L493.1,511.2 L493.6,511.2 L494.1,511.2 L494.6,511.2 L495.1,511.2 L495.6,511.2 L496.1,511.2 L496.6,511.2 L497.1,511.2 L497.6,511.2 L498.1,511.2 L498.6,511.2 L499.1,511.2 L499.6,511.2 L500.1,511.2 L500.6,511.2 L501.1,511.2 L501.6,511.2 L502.1,511.2 L502.6,511.2 L503.1,511.2 L503.6,511.2 L504.1,511.2 L504.6,511.2 L505.1,511.2 L505.6,511.2 L506.1,511.2 L506.6,511.2 L507.1,511.2 L507.6,511.2 L508.1,511.2 L508.6,511.2 L509.1,511.2 L509.6,511.2 L510.1,511.2 L510.6,511.2 L511.1,511.2 L511.6,511.2 L512.1,511.2 L512.6,511.2 L513.1,511.2 L513.6,511.2 L514.1,511.1 L514.6,511.0 L515.1,510.7 L515.6,510.1 L516.1,508.8 L516.6,506.3 L517.1,502.2 L517.6,495.6 L518.1,485.8 L518.6,472.8 L519.1,456.9 L519.6,439.4 L520.1,422.6 L520.6,409.0 L521.1,401.1 L521.6,400.3 L522.1,406.9 L522.6,419.5 L523.1,435.9 L523.6,453.5 L524.1,469.8 L524.6,483.5 L525.1,493.9 L525.6,501.1 L526.1,505.7 L526.6,508.4 L527.1,509.9 L527.6,510.6 L528.1,511.0 L528.6,511.1 L529.1,511.2 L529.6,511.2 L530.1,511.2 L530.6,511.2 L531.1,511.2 L531.6,511.2 L532.1,511.2 L532.6,511.2 L533.1,511.2 L533.6,511.2 L534.1,511.2 L534.6,511.2 L535.1,511.2 L535.6,511.2 L536.1,511.2 L536.6,511.1 L537.1,510.9 L537.6,510.6 L538.1,509.8 L538.6,508.3 L539.1,505.6 L539.6,501.2 L540.1,494.4 L540.6,485.0 L541.1,473.2 L541.6,460.0 L542.1,447.1 L542.6,436.5 L543.1,430.3 L543.6,429.7 L544.1,434.8 L544.6,444.7 L545.1,457.3 L545.6,470.6 L546.1,482.8 L546.6,492.7 L547.1,500.0 L547.6,504.9 L548.1,507.9 L548.6,509.6 L549.1,510.5 L549.6,510.9 L550.1,511.1 L550.6,511.2 L551.1,511.2 L551.6,511.2 L552.1,511.2 L552.6,511.2 L553.1,511.2 L553.6,511.2 L554.1,511.2 L554.6,511.2 L555.1,511.2 L555.6,511.2 L556.1,511.2 L556.6,511.2 L557.1,511.2 L557.6,511.1 L558.1,510.9 L558.6,510.5 L559.1,509.6 L559.6,508.1 L560.1,505.5 L560.6,501.4 L561.1,495.7 L561.6,488.6 L562.1,480.6 L562.6,472.9 L563.1,466.8 L563.6,463.6 L564.1,464.0 L564.6,467.8 L565.1,474.3 L565.6,482.2 L566.1,490.1 L566.6,497.0 L567.1,502.3 L567.6,506.1 L568.1,508.5 L568.6,509.9 L569.1,510.6 L569.6,510.9 L570.1,511.1 L570.6,511.2 L571.1,511.2 L571.6,511.2 L572.1,511.2 L572.6,511.2 L573.1,511.2 L573.6,511.2 L574.1,511.2 L574.6,511.2 L575.1,511.2 L575.6,511.2 L576.1,511.2 L576.6,511.2 L577.1,511.2 L577.6,511.2 L578.1,511.2 L578.6,511.2 L579.1,511.2 L579.6,511.1 L580.1,511.0 L580.6,510.8 L581.1,510.1 L581.6,508.7 L582.1,505.7 L582.6,500.4 L583.1,491.5 L583.6,478.2 L584.1,460.2 L584.6,438.6 L585.1,416.0 L585.6,396.2 L586.1,383.2 L586.6,380.0 L587.1,387.3 L587.6,403.5 L588.1,424.9 L588.6,447.4 L589.1,467.6 L589.6,483.3 L590.1,493.6 L590.6,498.8 L591.1,499.1 L591.6,495.0 L592.1,486.6 L592.6,474.5 L593.1,460.0 L593.6,445.1 L594.1,432.6 L594.6,425.1 L595.1,424.4 L595.6,430.6 L596.1,442.3 L596.6,457.0 L597.1,472.0 L597.6,485.1 L598.1,495.2 L598.6,502.1 L599.1,506.5 L599.6,508.9 L600.1,510.2 L600.6,510.8 L601.1,511.0 L601.6,511.1 L602.1,511.2 L602.6,511.2 L603.1,511.2 L603.6,511.2 L604.1,511.2 L604.6,511.2 L605.1,511.2 L605.6,511.2 L606.1,511.2 L606.6,511.2 L607.1,511.2 L607.6,511.2 L608.1,511.2 L608.6,511.2 L609.1,511.2 L609.6,511.1 L610.1,511.0 L610.6,510.5 L611.1,509.6 L611.6,507.5 L612.1,503.4 L612.6,496.3 L613.1,485.0 L613.6,468.8 L614.1,448.1 L614.6,424.9 L615.1,402.8 L615.6,386.1 L616.1,378.4 L616.6,381.7 L617.1,395.2 L617.6,415.6 L618.1,438.6 L618.6,460.1 L619.1,477.2 L619.6,488.1 L620.1,492.6 L620.6,490.7 L621.1,483.0 L621.6,470.2 L622.1,454.0 L622.6,437.1 L623.1,422.7 L623.6,414.1 L624.1,413.3 L624.6,420.5 L625.1,434.0 L625.6,450.9 L626.1,467.8 L626.6,482.2 L627.1,492.8 L627.6,499.1 L628.1,501.1 L628.6,499.2 L629.1,493.6 L629.6,484.6 L630.1,473.2 L630.6,460.9 L631.1,449.9 L631.6,442.7 L632.1,440.9 L632.6,445.0 L633.1,454.0 L633.6,465.8 L634.1,478.2 L634.6,489.1 L635.1,497.7 L635.6,503.6 L636.1,507.3 L636.6,509.3 L637.1,510.4 L637.6,510.9 L638.1,511.1 L638.6,511.2 L639.1,511.2 L639.6,511.2 L640.1,511.2 L640.6,511.2 L641.1,511.2 L641.6,511.2 L642.1,511.2 L642.6,511.2 L643.1,511.2 L643.6,511.2 L644.1,511.2 L644.6,511.2 L645.1,511.2 L645.6,511.2 L646.1,511.2 L646.6,511.2 L647.1,511.2 L647.6,511.2 L648.1,511.2 L648.6,511.2 L649.1,511.2 L649.6,511.2 L650.1,511.2 L650.6,511.2 L651.1,511.2 L651.6,511.2 L652.1,511.2 L652.6,511.2 L653.1,511.2 L653.6,511.2 L654.1,511.2 L654.6,511.2 L655.1,511.2 L655.6,511.2 L656.1,511.2 L656.6,511.2 L657.1,511.2 L657.6,511.2 L658.1,511.2 L658.6,511.2 L659.1,511.2 L659.6,511.2 L660.1,511.2 L660.6,511.2 L661.1,511.2 L661.6,511.2 L662.1,511.2 L662.6,511.2 L663.1,511.2 L663.6,511.2 L664.1,511.2 L664.6,511.2 L665.1,511.2 L665.6,511.2 L666.1,511.2 L666.6,511.2 L667.1,511.2 L667.6,511.2 L668.1,511.2 L668.6,511.2 L669.1,511.2 L669.6,511.2 L670.1,511.2 L670.6,511.2 L671.1,511.2 L671.6,511.2 L672.1,511.2 L672.6,511.2 L673.1,511.2 L673.6,511.2 L674.1,511.2 L674.6,511.2 L675.1,511.2 L675.6,511.2 L676.1,511.2 L676.6,511.2 L677.1,511.2 L677.6,511.2 L678.1,511.2 L678.6,511.1 L679.1,511.1 L679.6,510.9 L680.1,510.7 L680.6,510.3 L681.1,509.8 L681.6,509.1 L682.1,508.5 L682.6,507.9 L683.1,507.6 L683.6,507.5 L684.1,507.8 L684.6,508.3 L685.1,509.0 L685.6,509.7 L686.1,510.2 L686.6,510.6 L687.1,510.9 L687.6,511.0 L688.1,511.1 L688.6,511.2 L689.1,511.2 L689.6,511.2 L690.1,511.2 L690.6,511.1 L691.1,510.9 L691.6,510.4 L692.1,509.3 L692.6,507.4 L693.1,504.0 L693.6,498.8 L694.1,491.8 L694.6,483.4 L695.1,475.0 L695.6,468.1 L696.1,464.4 L696.6,464.9 L697.1,469.3 L697.6,476.6 L698.1,485.1 L698.6,493.2 L699.1,499.8 L699.6,504.2 L700.1,506.5 L700.6,506.5 L701.1,504.0 L701.6,498.6 L702.1,489.9 L702.6,477.9 L703.1,463.5 L703.6,448.9 L704.1,436.9 L704.6,430.5 L705.1,431.2 L705.6,439.0 L706.1,451.7 L706.6,466.5 L707.1,480.6 L707.6,492.1 L708.1,500.3 L708.6,505.5 L709.1,508.5 L709.6,510.0 L710.1,510.7 L710.6,511.0 L711.1,511.1 L711.6,511.2 L712.1,511.2 L712.6,511.2 L713.1,511.2 L713.6,511.2 L714.1,511.2 L714.6,511.2 L715.1,511.2 L715.6,511.2 L716.1,511.2 L716.6,511.2 L717.1,511.2 L717.6,511.2 L718.1,511.2 L718.6,511.2 L719.1,511.2 L719.6,511.2 L720.1,511.2 L720.6,511.2 L721.1,511.2 L721.6,511.2 L722.1,511.2 L722.6,511.2 L723.1,511.2 L723.6,511.2 L724.1,511.2 L724.6,511.2 L725.1,511.2 L725.6,511.2 L726.1,511.2 L726.6,511.2 L727.1,511.2 L727.6,511.2 L728.1,511.2 L728.6,511.2 L729.1,511.2 L729.6,511.2 L730.1,511.2 L730.6,511.2 L731.1,511.2 L731.6,511.2 L732.1,511.2 L732.6,511.2 L733.1,511.2 L733.6,511.2 L734.1,511.2 L734.6,511.2 L735.1,511.2 L735.6,511.2 L736.1,511.2 L736.6,511.2 L737.1,511.2 L737.6,511.2 L738.1,511.2 L738.6,511.2 L739.1,511.2 L739.6,511.2 L740.1,511.2 L740.6,511.2 L741.1,511.1 L741.6,510.9 L742.1,510.4 L742.6,509.4 L743.1,507.6 L743.6,504.5 L744.1,499.7 L744.6,493.5 L745.1,486.4 L745.6,479.7 L746.1,474.8 L746.6,473.0 L747.1,474.8 L747.6,479.7 L748.1,486.4 L748.6,493.5 L749.1,499.7 L749.6,504.5 L750.1,507.6 L750.6,509.4 L751.1,510.4 L751.6,510.9 L752.1,511.1 L752.6,511.1 L753.1,511.1 L753.6,511.0 L754.1,510.7 L754.6,510.3 L755.1,509.7 L755.6,509.0 L756.1,508.1 L756.6,507.4 L757.1,506.8 L757.6,506.7 L758.1,507.0 L758.6,507.6 L759.1,508.5 L759.6,509.3 L760.1,510.0 L760.6,510.5 L761.1,510.8 L761.6,511.0 L762.1,511.1 L762.6,511.0 L763.1,510.7 L763.6,510.0 L764.1,508.6 L764.6,505.9 L765.1,501.3 L765.6,494.6 L766.1,486.0 L766.6,476.4 L767.1,467.6 L767.6,461.7 L768.1,460.2 L768.6,463.6 L769.1,470.8 L769.6,480.2 L770.1,489.4 L770.6,497.0 L771.1,502.0 L771.6,503.7 L772.1,501.5 L772.6,494.6 L773.1,481.6 L773.6,462.0 L774.1,436.5 L774.6,408.1 L775.1,382.1 L775.6,364.7 L776.1,360.3 L776.6,370.3 L777.1,391.8 L777.6,419.5 L778.1,447.3 L778.6,470.8 L779.1,488.1 L779.6,499.2 L780.1,505.5 L780.6,508.8 L781.1,510.3 L781.6,510.9 L782.1,511.1 L782.6,511.2 L783.1,511.2 L783.6,511.1 L784.1,510.9 L784.6,510.4 L785.1,509.1 L785.6,506.2 L786.1,500.6 L786.6,490.8 L787.1,475.5 L787.6,454.8 L788.1,430.2 L788.6,405.8 L789.1,386.8 L789.6,378.0 L790.1,381.8 L790.6,397.2 L791.1,420.1 L791.6,445.2 L792.1,467.6 L792.6,484.8 L793.1,495.7 L793.6,500.8 L794.1,500.5 L794.6,495.3 L795.1,485.2 L795.6,470.6 L796.1,453.1 L796.6,435.6 L797.1,422.0 L797.6,415.7 L798.1,418.4 L798.6,429.5 L799.1,445.8 L799.6,463.6 L800.1,479.2 L800.6,490.5 L801.1,496.4 L801.6,496.8 L802.1,491.8 L802.6,482.0 L803.1,468.5 L803.6,453.8 L804.1,440.8 L804.6,432.9 L805.1,432.1 L805.6,438.8 L806.1,451.0 L806.6,465.9 L807.1,480.2 L807.6,492.0 L808.1,500.4 L808.6,505.7 L809.1,508.7 L809.6,510.1 L810.1,510.8 L810.6,511.1 L811.1,511.2 L811.6,511.2 L812.1,511.2 L812.6,511.2 L813.1,511.2 L813.6,511.1 L814.1,510.8 L814.6,510.0 L815.1,508.1 L815.6,504.1 L816.1,496.4 L816.6,483.2 L817.1,463.3 L817.6,436.9 L818.1,406.7 L818.6,377.8 L819.1,356.7 L819.6,349.0 L820.1,356.7 L820.6,377.8 L821.1,406.7 L821.6,436.9 L822.1,463.3 L822.6,483.2 L823.1,496.4 L823.6,504.1 L824.1,508.1 L824.6,510.0 L825.1,510.8 L825.6,511.1 L826.1,511.2 L826.6,511.2 L827.1,511.2 L827.6,511.2 L828.1,511.2 L828.6,511.2 L829.1,511.2 L829.6,511.2 L830.1,511.2 L830.6,511.2 L831.1,511.2 L831.6,511.2 L832.1,511.2 L832.6,511.2 L833.1,511.2 L833.6,511.2 L834.1,511.2 L834.6,511.2 L835.1,511.1 L835.6,511.0 L836.1,510.6 L836.6,509.7 L837.1,507.6 L837.6,503.2 L838.1,495.1 L838.6,482.0 L839.1,463.2 L839.6,439.5 L840.1,414.2 L840.6,392.1 L841.1,378.6 L841.6,377.2 L842.1,388.5 L842.6,409.3 L843.1,434.4 L843.6,458.6 L844.1,478.3 L844.6,491.8 L845.1,499.0 L845.6,500.6 L846.1,496.9 L846.6,487.8 L847.1,473.6 L847.6,455.4 L848.1,435.7 L848.6,418.5 L849.1,408.0 L849.6,407.0 L850.1,415.8 L850.6,431.9 L851.1,451.4 L851.6,470.1 L852.1,485.1 L852.6,495.0 L853.1,499.5 L853.6,498.7 L854.1,492.9 L854.6,482.3 L855.1,467.9 L855.6,451.6 L856.1,436.7 L856.6,426.6 L857.1,424.1 L857.6,429.8 L858.1,442.3 L858.6,458.2 L859.1,474.3 L859.6,487.9 L860.1,497.8 L860.6,504.3 L861.1,507.9 L861.6,509.8 L862.1,510.7 L862.6,511.0 L863.1,511.1 L863.6,511.2 L864.1,511.2 L864.6,511.2 L865.1,511.2 L865.6,511.2 L866.1,511.2 L866.6,511.2 L867.1,511.2 L867.6,511.2 L868.1,511.2 L868.6,511.2 L869.1,511.2 L869.6,511.2 L870.1,511.2 L870.6,511.2 L871.1,511.2 L871.6,511.2 L872.1,511.2 L872.6,511.2 L873.1,511.1 L873.6,510.8 L874.1,510.0 L874.6,508.2 L875.1,504.5 L875.6,497.6 L876.1,486.0 L876.6,468.8 L877.1,446.7 L877.6,422.2 L878.1,399.8 L878.6,384.7 L879.1,381.0 L879.6,389.6 L880.1,408.1 L880.6,432.0 L881.1,455.8 L881.6,475.8 L882.1,489.7 L882.6,497.3 L883.1,498.8 L883.6,494.7 L884.1,485.3 L884.6,471.2 L885.1,454.1 L885.6,437.0 L886.1,423.6 L886.6,417.4 L887.1,420.1 L887.6,431.0 L888.1,447.1 L888.6,464.8 L889.1,480.7 L889.6,493.0 L890.1,501.4 L890.6,506.4 L891.1,509.1 L891.6,510.3 L892.1,510.9 L892.6,511.1 L893.1,511.2 L893.6,511.2 L894.1,511.2 L894.6,511.2 L895.1,511.2 L895.6,511.2 L896.1,511.2 L896.6,511.2 L897.1,511.2 L897.6,511.1 L898.1,511.0 L898.6,510.8 L899.1,510.4 L899.6,509.7 L900.1,508.7 L900.6,507.2 L901.1,505.4 L901.6,503.7 L902.1,502.3 L902.6,501.7 L903.1,502.0 L903.6,503.1 L904.1,504.7 L904.6,506.5 L905.1,508.1 L905.6,509.4 L906.1,510.2 L906.6,510.7 L907.1,511.0 L907.6,511.1 L908.1,511.2 L908.6,511.2 L909.1,511.2 L909.6,511.2 L910.1,511.2" fill="none" stroke="#1e1e1e" stroke-width="1.5" stroke-linejoin="round"/>
</svg></body></html>
